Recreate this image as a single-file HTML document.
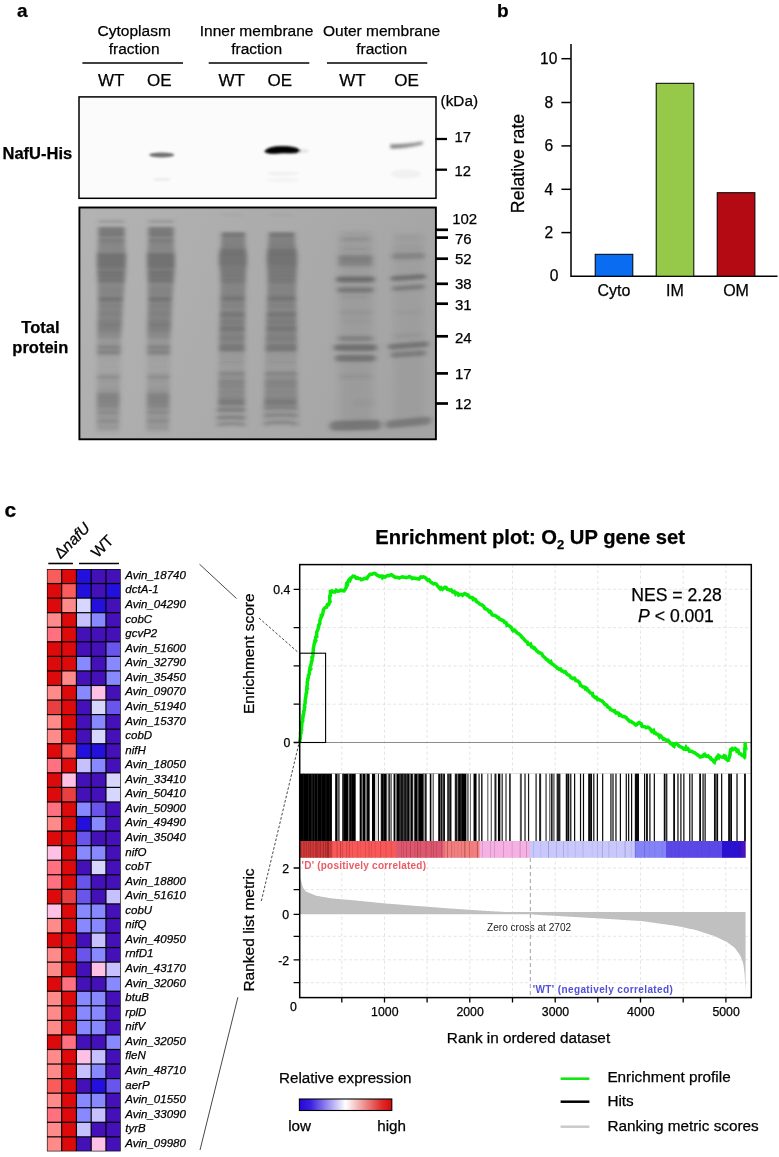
<!DOCTYPE html>
<html><head><meta charset="utf-8"><title>Figure</title>
<style>
html,body{margin:0;padding:0;background:#fff}
body{width:779px;height:1157px;overflow:hidden}
svg{display:block;font-family:"Liberation Sans",sans-serif}
text{fill:#000;stroke:#000;stroke-width:0.25px}
</style></head><body>
<svg width="779" height="1157" viewBox="0 0 779 1157">
<defs><linearGradient id="gA" gradientUnits="userSpaceOnUse" x1="0" y1="218" x2="0" y2="436"><stop offset="0.0000" stop-color="#505050" stop-opacity="0.000"/><stop offset="0.0046" stop-color="#505050" stop-opacity="0.000"/><stop offset="0.0092" stop-color="#505050" stop-opacity="0.118"/><stop offset="0.0138" stop-color="#505050" stop-opacity="0.204"/><stop offset="0.0183" stop-color="#505050" stop-opacity="0.232"/><stop offset="0.0229" stop-color="#505050" stop-opacity="0.150"/><stop offset="0.0275" stop-color="#505050" stop-opacity="0.000"/><stop offset="0.0321" stop-color="#505050" stop-opacity="0.048"/><stop offset="0.0367" stop-color="#505050" stop-opacity="0.095"/><stop offset="0.0413" stop-color="#505050" stop-opacity="0.245"/><stop offset="0.0459" stop-color="#505050" stop-opacity="0.551"/><stop offset="0.0505" stop-color="#505050" stop-opacity="0.576"/><stop offset="0.0550" stop-color="#505050" stop-opacity="0.546"/><stop offset="0.0596" stop-color="#505050" stop-opacity="0.544"/><stop offset="0.0642" stop-color="#505050" stop-opacity="0.603"/><stop offset="0.0688" stop-color="#505050" stop-opacity="0.600"/><stop offset="0.0734" stop-color="#505050" stop-opacity="0.542"/><stop offset="0.0780" stop-color="#505050" stop-opacity="0.576"/><stop offset="0.0826" stop-color="#505050" stop-opacity="0.561"/><stop offset="0.0872" stop-color="#505050" stop-opacity="0.442"/><stop offset="0.0917" stop-color="#505050" stop-opacity="0.364"/><stop offset="0.0963" stop-color="#505050" stop-opacity="0.448"/><stop offset="0.1009" stop-color="#505050" stop-opacity="0.613"/><stop offset="0.1055" stop-color="#505050" stop-opacity="0.547"/><stop offset="0.1101" stop-color="#505050" stop-opacity="0.454"/><stop offset="0.1147" stop-color="#505050" stop-opacity="0.415"/><stop offset="0.1193" stop-color="#505050" stop-opacity="0.496"/><stop offset="0.1239" stop-color="#505050" stop-opacity="0.442"/><stop offset="0.1284" stop-color="#505050" stop-opacity="0.369"/><stop offset="0.1330" stop-color="#505050" stop-opacity="0.419"/><stop offset="0.1376" stop-color="#505050" stop-opacity="0.481"/><stop offset="0.1422" stop-color="#505050" stop-opacity="0.432"/><stop offset="0.1468" stop-color="#505050" stop-opacity="0.387"/><stop offset="0.1514" stop-color="#505050" stop-opacity="0.434"/><stop offset="0.1560" stop-color="#505050" stop-opacity="0.459"/><stop offset="0.1606" stop-color="#505050" stop-opacity="0.457"/><stop offset="0.1651" stop-color="#505050" stop-opacity="0.625"/><stop offset="0.1697" stop-color="#505050" stop-opacity="0.658"/><stop offset="0.1743" stop-color="#505050" stop-opacity="0.651"/><stop offset="0.1789" stop-color="#505050" stop-opacity="0.629"/><stop offset="0.1835" stop-color="#505050" stop-opacity="0.645"/><stop offset="0.1881" stop-color="#505050" stop-opacity="0.657"/><stop offset="0.1927" stop-color="#505050" stop-opacity="0.633"/><stop offset="0.1972" stop-color="#505050" stop-opacity="0.634"/><stop offset="0.2018" stop-color="#505050" stop-opacity="0.665"/><stop offset="0.2064" stop-color="#505050" stop-opacity="0.639"/><stop offset="0.2110" stop-color="#505050" stop-opacity="0.617"/><stop offset="0.2156" stop-color="#505050" stop-opacity="0.671"/><stop offset="0.2202" stop-color="#505050" stop-opacity="0.656"/><stop offset="0.2248" stop-color="#505050" stop-opacity="0.597"/><stop offset="0.2294" stop-color="#505050" stop-opacity="0.606"/><stop offset="0.2339" stop-color="#505050" stop-opacity="0.520"/><stop offset="0.2385" stop-color="#505050" stop-opacity="0.497"/><stop offset="0.2431" stop-color="#505050" stop-opacity="0.601"/><stop offset="0.2477" stop-color="#505050" stop-opacity="0.685"/><stop offset="0.2523" stop-color="#505050" stop-opacity="0.601"/><stop offset="0.2569" stop-color="#505050" stop-opacity="0.548"/><stop offset="0.2615" stop-color="#505050" stop-opacity="0.651"/><stop offset="0.2661" stop-color="#505050" stop-opacity="0.660"/><stop offset="0.2706" stop-color="#505050" stop-opacity="0.553"/><stop offset="0.2752" stop-color="#505050" stop-opacity="0.569"/><stop offset="0.2798" stop-color="#505050" stop-opacity="0.658"/><stop offset="0.2844" stop-color="#505050" stop-opacity="0.624"/><stop offset="0.2890" stop-color="#505050" stop-opacity="0.548"/><stop offset="0.2936" stop-color="#505050" stop-opacity="0.579"/><stop offset="0.2982" stop-color="#505050" stop-opacity="0.509"/><stop offset="0.3028" stop-color="#505050" stop-opacity="0.442"/><stop offset="0.3073" stop-color="#505050" stop-opacity="0.398"/><stop offset="0.3119" stop-color="#505050" stop-opacity="0.419"/><stop offset="0.3165" stop-color="#505050" stop-opacity="0.451"/><stop offset="0.3211" stop-color="#505050" stop-opacity="0.460"/><stop offset="0.3257" stop-color="#505050" stop-opacity="0.437"/><stop offset="0.3303" stop-color="#505050" stop-opacity="0.447"/><stop offset="0.3349" stop-color="#505050" stop-opacity="0.466"/><stop offset="0.3394" stop-color="#505050" stop-opacity="0.457"/><stop offset="0.3440" stop-color="#505050" stop-opacity="0.438"/><stop offset="0.3486" stop-color="#505050" stop-opacity="0.450"/><stop offset="0.3532" stop-color="#505050" stop-opacity="0.451"/><stop offset="0.3578" stop-color="#505050" stop-opacity="0.426"/><stop offset="0.3624" stop-color="#505050" stop-opacity="0.488"/><stop offset="0.3670" stop-color="#505050" stop-opacity="0.611"/><stop offset="0.3716" stop-color="#505050" stop-opacity="0.626"/><stop offset="0.3761" stop-color="#505050" stop-opacity="0.560"/><stop offset="0.3807" stop-color="#505050" stop-opacity="0.577"/><stop offset="0.3853" stop-color="#505050" stop-opacity="0.484"/><stop offset="0.3899" stop-color="#505050" stop-opacity="0.416"/><stop offset="0.3945" stop-color="#505050" stop-opacity="0.422"/><stop offset="0.3991" stop-color="#505050" stop-opacity="0.523"/><stop offset="0.4037" stop-color="#505050" stop-opacity="0.490"/><stop offset="0.4083" stop-color="#505050" stop-opacity="0.391"/><stop offset="0.4128" stop-color="#505050" stop-opacity="0.484"/><stop offset="0.4174" stop-color="#505050" stop-opacity="0.506"/><stop offset="0.4220" stop-color="#505050" stop-opacity="0.367"/><stop offset="0.4266" stop-color="#505050" stop-opacity="0.422"/><stop offset="0.4312" stop-color="#505050" stop-opacity="0.561"/><stop offset="0.4358" stop-color="#505050" stop-opacity="0.464"/><stop offset="0.4404" stop-color="#505050" stop-opacity="0.451"/><stop offset="0.4450" stop-color="#505050" stop-opacity="0.529"/><stop offset="0.4495" stop-color="#505050" stop-opacity="0.488"/><stop offset="0.4541" stop-color="#505050" stop-opacity="0.397"/><stop offset="0.4587" stop-color="#505050" stop-opacity="0.437"/><stop offset="0.4633" stop-color="#505050" stop-opacity="0.479"/><stop offset="0.4679" stop-color="#505050" stop-opacity="0.489"/><stop offset="0.4725" stop-color="#505050" stop-opacity="0.491"/><stop offset="0.4771" stop-color="#505050" stop-opacity="0.524"/><stop offset="0.4817" stop-color="#505050" stop-opacity="0.525"/><stop offset="0.4862" stop-color="#505050" stop-opacity="0.508"/><stop offset="0.4908" stop-color="#505050" stop-opacity="0.517"/><stop offset="0.4954" stop-color="#505050" stop-opacity="0.528"/><stop offset="0.5000" stop-color="#505050" stop-opacity="0.514"/><stop offset="0.5046" stop-color="#505050" stop-opacity="0.479"/><stop offset="0.5092" stop-color="#505050" stop-opacity="0.475"/><stop offset="0.5138" stop-color="#505050" stop-opacity="0.501"/><stop offset="0.5183" stop-color="#505050" stop-opacity="0.486"/><stop offset="0.5229" stop-color="#505050" stop-opacity="0.428"/><stop offset="0.5275" stop-color="#505050" stop-opacity="0.406"/><stop offset="0.5321" stop-color="#505050" stop-opacity="0.391"/><stop offset="0.5367" stop-color="#505050" stop-opacity="0.384"/><stop offset="0.5413" stop-color="#505050" stop-opacity="0.401"/><stop offset="0.5459" stop-color="#505050" stop-opacity="0.345"/><stop offset="0.5505" stop-color="#505050" stop-opacity="0.349"/><stop offset="0.5550" stop-color="#505050" stop-opacity="0.288"/><stop offset="0.5596" stop-color="#505050" stop-opacity="0.192"/><stop offset="0.5642" stop-color="#505050" stop-opacity="0.257"/><stop offset="0.5688" stop-color="#505050" stop-opacity="0.307"/><stop offset="0.5734" stop-color="#505050" stop-opacity="0.220"/><stop offset="0.5780" stop-color="#505050" stop-opacity="0.220"/><stop offset="0.5826" stop-color="#505050" stop-opacity="0.341"/><stop offset="0.5872" stop-color="#505050" stop-opacity="0.421"/><stop offset="0.5917" stop-color="#505050" stop-opacity="0.431"/><stop offset="0.5963" stop-color="#505050" stop-opacity="0.445"/><stop offset="0.6009" stop-color="#505050" stop-opacity="0.400"/><stop offset="0.6055" stop-color="#505050" stop-opacity="0.325"/><stop offset="0.6101" stop-color="#505050" stop-opacity="0.409"/><stop offset="0.6147" stop-color="#505050" stop-opacity="0.498"/><stop offset="0.6193" stop-color="#505050" stop-opacity="0.447"/><stop offset="0.6239" stop-color="#505050" stop-opacity="0.348"/><stop offset="0.6284" stop-color="#505050" stop-opacity="0.280"/><stop offset="0.6330" stop-color="#505050" stop-opacity="0.202"/><stop offset="0.6376" stop-color="#505050" stop-opacity="0.129"/><stop offset="0.6422" stop-color="#505050" stop-opacity="0.150"/><stop offset="0.6468" stop-color="#505050" stop-opacity="0.148"/><stop offset="0.6514" stop-color="#505050" stop-opacity="0.123"/><stop offset="0.6560" stop-color="#505050" stop-opacity="0.134"/><stop offset="0.6606" stop-color="#505050" stop-opacity="0.157"/><stop offset="0.6651" stop-color="#505050" stop-opacity="0.126"/><stop offset="0.6697" stop-color="#505050" stop-opacity="0.103"/><stop offset="0.6743" stop-color="#505050" stop-opacity="0.148"/><stop offset="0.6789" stop-color="#505050" stop-opacity="0.161"/><stop offset="0.6835" stop-color="#505050" stop-opacity="0.095"/><stop offset="0.6881" stop-color="#505050" stop-opacity="0.088"/><stop offset="0.6927" stop-color="#505050" stop-opacity="0.164"/><stop offset="0.6972" stop-color="#505050" stop-opacity="0.161"/><stop offset="0.7018" stop-color="#505050" stop-opacity="0.070"/><stop offset="0.7064" stop-color="#505050" stop-opacity="0.099"/><stop offset="0.7110" stop-color="#505050" stop-opacity="0.220"/><stop offset="0.7156" stop-color="#505050" stop-opacity="0.238"/><stop offset="0.7202" stop-color="#505050" stop-opacity="0.162"/><stop offset="0.7248" stop-color="#505050" stop-opacity="0.250"/><stop offset="0.7294" stop-color="#505050" stop-opacity="0.432"/><stop offset="0.7339" stop-color="#505050" stop-opacity="0.358"/><stop offset="0.7385" stop-color="#505050" stop-opacity="0.200"/><stop offset="0.7431" stop-color="#505050" stop-opacity="0.177"/><stop offset="0.7477" stop-color="#505050" stop-opacity="0.253"/><stop offset="0.7523" stop-color="#505050" stop-opacity="0.228"/><stop offset="0.7569" stop-color="#505050" stop-opacity="0.162"/><stop offset="0.7615" stop-color="#505050" stop-opacity="0.189"/><stop offset="0.7661" stop-color="#505050" stop-opacity="0.226"/><stop offset="0.7706" stop-color="#505050" stop-opacity="0.188"/><stop offset="0.7752" stop-color="#505050" stop-opacity="0.185"/><stop offset="0.7798" stop-color="#505050" stop-opacity="0.233"/><stop offset="0.7844" stop-color="#505050" stop-opacity="0.250"/><stop offset="0.7890" stop-color="#505050" stop-opacity="0.240"/><stop offset="0.7936" stop-color="#505050" stop-opacity="0.268"/><stop offset="0.7982" stop-color="#505050" stop-opacity="0.300"/><stop offset="0.8028" stop-color="#505050" stop-opacity="0.349"/><stop offset="0.8073" stop-color="#505050" stop-opacity="0.418"/><stop offset="0.8119" stop-color="#505050" stop-opacity="0.457"/><stop offset="0.8165" stop-color="#505050" stop-opacity="0.444"/><stop offset="0.8211" stop-color="#505050" stop-opacity="0.426"/><stop offset="0.8257" stop-color="#505050" stop-opacity="0.484"/><stop offset="0.8303" stop-color="#505050" stop-opacity="0.487"/><stop offset="0.8349" stop-color="#505050" stop-opacity="0.432"/><stop offset="0.8394" stop-color="#505050" stop-opacity="0.475"/><stop offset="0.8440" stop-color="#505050" stop-opacity="0.505"/><stop offset="0.8486" stop-color="#505050" stop-opacity="0.405"/><stop offset="0.8532" stop-color="#505050" stop-opacity="0.402"/><stop offset="0.8578" stop-color="#505050" stop-opacity="0.489"/><stop offset="0.8624" stop-color="#505050" stop-opacity="0.423"/><stop offset="0.8670" stop-color="#505050" stop-opacity="0.334"/><stop offset="0.8716" stop-color="#505050" stop-opacity="0.365"/><stop offset="0.8761" stop-color="#505050" stop-opacity="0.357"/><stop offset="0.8807" stop-color="#505050" stop-opacity="0.256"/><stop offset="0.8853" stop-color="#505050" stop-opacity="0.282"/><stop offset="0.8899" stop-color="#505050" stop-opacity="0.426"/><stop offset="0.8945" stop-color="#505050" stop-opacity="0.409"/><stop offset="0.8991" stop-color="#505050" stop-opacity="0.266"/><stop offset="0.9037" stop-color="#505050" stop-opacity="0.200"/><stop offset="0.9083" stop-color="#505050" stop-opacity="0.272"/><stop offset="0.9128" stop-color="#505050" stop-opacity="0.281"/><stop offset="0.9174" stop-color="#505050" stop-opacity="0.235"/><stop offset="0.9220" stop-color="#505050" stop-opacity="0.239"/><stop offset="0.9266" stop-color="#505050" stop-opacity="0.329"/><stop offset="0.9312" stop-color="#505050" stop-opacity="0.382"/><stop offset="0.9358" stop-color="#505050" stop-opacity="0.327"/><stop offset="0.9404" stop-color="#505050" stop-opacity="0.264"/><stop offset="0.9450" stop-color="#505050" stop-opacity="0.224"/><stop offset="0.9495" stop-color="#505050" stop-opacity="0.237"/><stop offset="0.9541" stop-color="#505050" stop-opacity="0.228"/><stop offset="0.9587" stop-color="#505050" stop-opacity="0.244"/><stop offset="0.9633" stop-color="#505050" stop-opacity="0.267"/><stop offset="0.9679" stop-color="#505050" stop-opacity="0.212"/><stop offset="0.9725" stop-color="#505050" stop-opacity="0.135"/><stop offset="0.9771" stop-color="#505050" stop-opacity="0.124"/><stop offset="0.9817" stop-color="#505050" stop-opacity="0.089"/><stop offset="0.9862" stop-color="#505050" stop-opacity="0.060"/><stop offset="0.9908" stop-color="#505050" stop-opacity="0.030"/><stop offset="0.9954" stop-color="#505050" stop-opacity="0.000"/><stop offset="1.0000" stop-color="#505050" stop-opacity="0.000"/></linearGradient><linearGradient id="gB" gradientUnits="userSpaceOnUse" x1="0" y1="211" x2="0" y2="430"><stop offset="0.0000" stop-color="#505050" stop-opacity="0.000"/><stop offset="0.0046" stop-color="#505050" stop-opacity="0.000"/><stop offset="0.0091" stop-color="#505050" stop-opacity="0.000"/><stop offset="0.0137" stop-color="#505050" stop-opacity="0.023"/><stop offset="0.0183" stop-color="#505050" stop-opacity="0.046"/><stop offset="0.0228" stop-color="#505050" stop-opacity="0.023"/><stop offset="0.0274" stop-color="#505050" stop-opacity="0.000"/><stop offset="0.0320" stop-color="#505050" stop-opacity="0.000"/><stop offset="0.0365" stop-color="#505050" stop-opacity="0.000"/><stop offset="0.0411" stop-color="#505050" stop-opacity="0.000"/><stop offset="0.0457" stop-color="#505050" stop-opacity="0.000"/><stop offset="0.0502" stop-color="#505050" stop-opacity="0.000"/><stop offset="0.0548" stop-color="#505050" stop-opacity="0.000"/><stop offset="0.0594" stop-color="#505050" stop-opacity="0.000"/><stop offset="0.0639" stop-color="#505050" stop-opacity="0.000"/><stop offset="0.0685" stop-color="#505050" stop-opacity="0.000"/><stop offset="0.0731" stop-color="#505050" stop-opacity="0.000"/><stop offset="0.0776" stop-color="#505050" stop-opacity="0.000"/><stop offset="0.0822" stop-color="#505050" stop-opacity="0.000"/><stop offset="0.0868" stop-color="#505050" stop-opacity="0.000"/><stop offset="0.0913" stop-color="#505050" stop-opacity="0.000"/><stop offset="0.0959" stop-color="#505050" stop-opacity="0.213"/><stop offset="0.1005" stop-color="#505050" stop-opacity="0.571"/><stop offset="0.1050" stop-color="#505050" stop-opacity="0.518"/><stop offset="0.1096" stop-color="#505050" stop-opacity="0.553"/><stop offset="0.1142" stop-color="#505050" stop-opacity="0.613"/><stop offset="0.1187" stop-color="#505050" stop-opacity="0.522"/><stop offset="0.1233" stop-color="#505050" stop-opacity="0.397"/><stop offset="0.1279" stop-color="#505050" stop-opacity="0.450"/><stop offset="0.1324" stop-color="#505050" stop-opacity="0.531"/><stop offset="0.1370" stop-color="#505050" stop-opacity="0.479"/><stop offset="0.1416" stop-color="#505050" stop-opacity="0.401"/><stop offset="0.1461" stop-color="#505050" stop-opacity="0.457"/><stop offset="0.1507" stop-color="#505050" stop-opacity="0.538"/><stop offset="0.1553" stop-color="#505050" stop-opacity="0.489"/><stop offset="0.1598" stop-color="#505050" stop-opacity="0.420"/><stop offset="0.1644" stop-color="#505050" stop-opacity="0.471"/><stop offset="0.1689" stop-color="#505050" stop-opacity="0.533"/><stop offset="0.1735" stop-color="#505050" stop-opacity="0.554"/><stop offset="0.1781" stop-color="#505050" stop-opacity="0.580"/><stop offset="0.1826" stop-color="#505050" stop-opacity="0.625"/><stop offset="0.1872" stop-color="#505050" stop-opacity="0.649"/><stop offset="0.1918" stop-color="#505050" stop-opacity="0.609"/><stop offset="0.1963" stop-color="#505050" stop-opacity="0.603"/><stop offset="0.2009" stop-color="#505050" stop-opacity="0.634"/><stop offset="0.2055" stop-color="#505050" stop-opacity="0.628"/><stop offset="0.2100" stop-color="#505050" stop-opacity="0.606"/><stop offset="0.2146" stop-color="#505050" stop-opacity="0.621"/><stop offset="0.2192" stop-color="#505050" stop-opacity="0.634"/><stop offset="0.2237" stop-color="#505050" stop-opacity="0.610"/><stop offset="0.2283" stop-color="#505050" stop-opacity="0.612"/><stop offset="0.2329" stop-color="#505050" stop-opacity="0.641"/><stop offset="0.2374" stop-color="#505050" stop-opacity="0.616"/><stop offset="0.2420" stop-color="#505050" stop-opacity="0.595"/><stop offset="0.2466" stop-color="#505050" stop-opacity="0.613"/><stop offset="0.2511" stop-color="#505050" stop-opacity="0.564"/><stop offset="0.2557" stop-color="#505050" stop-opacity="0.507"/><stop offset="0.2603" stop-color="#505050" stop-opacity="0.569"/><stop offset="0.2648" stop-color="#505050" stop-opacity="0.593"/><stop offset="0.2694" stop-color="#505050" stop-opacity="0.502"/><stop offset="0.2740" stop-color="#505050" stop-opacity="0.534"/><stop offset="0.2785" stop-color="#505050" stop-opacity="0.617"/><stop offset="0.2831" stop-color="#505050" stop-opacity="0.538"/><stop offset="0.2877" stop-color="#505050" stop-opacity="0.489"/><stop offset="0.2922" stop-color="#505050" stop-opacity="0.590"/><stop offset="0.2968" stop-color="#505050" stop-opacity="0.601"/><stop offset="0.3014" stop-color="#505050" stop-opacity="0.500"/><stop offset="0.3059" stop-color="#505050" stop-opacity="0.517"/><stop offset="0.3105" stop-color="#505050" stop-opacity="0.605"/><stop offset="0.3151" stop-color="#505050" stop-opacity="0.575"/><stop offset="0.3196" stop-color="#505050" stop-opacity="0.504"/><stop offset="0.3242" stop-color="#505050" stop-opacity="0.535"/><stop offset="0.3288" stop-color="#505050" stop-opacity="0.533"/><stop offset="0.3333" stop-color="#505050" stop-opacity="0.449"/><stop offset="0.3379" stop-color="#505050" stop-opacity="0.407"/><stop offset="0.3425" stop-color="#505050" stop-opacity="0.427"/><stop offset="0.3470" stop-color="#505050" stop-opacity="0.458"/><stop offset="0.3516" stop-color="#505050" stop-opacity="0.444"/><stop offset="0.3562" stop-color="#505050" stop-opacity="0.421"/><stop offset="0.3607" stop-color="#505050" stop-opacity="0.431"/><stop offset="0.3653" stop-color="#505050" stop-opacity="0.450"/><stop offset="0.3699" stop-color="#505050" stop-opacity="0.441"/><stop offset="0.3744" stop-color="#505050" stop-opacity="0.422"/><stop offset="0.3790" stop-color="#505050" stop-opacity="0.434"/><stop offset="0.3836" stop-color="#505050" stop-opacity="0.457"/><stop offset="0.3881" stop-color="#505050" stop-opacity="0.503"/><stop offset="0.3927" stop-color="#505050" stop-opacity="0.548"/><stop offset="0.3973" stop-color="#505050" stop-opacity="0.589"/><stop offset="0.4018" stop-color="#505050" stop-opacity="0.604"/><stop offset="0.4064" stop-color="#505050" stop-opacity="0.540"/><stop offset="0.4110" stop-color="#505050" stop-opacity="0.503"/><stop offset="0.4155" stop-color="#505050" stop-opacity="0.466"/><stop offset="0.4201" stop-color="#505050" stop-opacity="0.417"/><stop offset="0.4247" stop-color="#505050" stop-opacity="0.392"/><stop offset="0.4292" stop-color="#505050" stop-opacity="0.509"/><stop offset="0.4338" stop-color="#505050" stop-opacity="0.467"/><stop offset="0.4384" stop-color="#505050" stop-opacity="0.361"/><stop offset="0.4429" stop-color="#505050" stop-opacity="0.439"/><stop offset="0.4475" stop-color="#505050" stop-opacity="0.465"/><stop offset="0.4521" stop-color="#505050" stop-opacity="0.354"/><stop offset="0.4566" stop-color="#505050" stop-opacity="0.405"/><stop offset="0.4612" stop-color="#505050" stop-opacity="0.554"/><stop offset="0.4658" stop-color="#505050" stop-opacity="0.546"/><stop offset="0.4703" stop-color="#505050" stop-opacity="0.538"/><stop offset="0.4749" stop-color="#505050" stop-opacity="0.618"/><stop offset="0.4795" stop-color="#505050" stop-opacity="0.583"/><stop offset="0.4840" stop-color="#505050" stop-opacity="0.483"/><stop offset="0.4886" stop-color="#505050" stop-opacity="0.422"/><stop offset="0.4932" stop-color="#505050" stop-opacity="0.485"/><stop offset="0.4977" stop-color="#505050" stop-opacity="0.492"/><stop offset="0.5023" stop-color="#505050" stop-opacity="0.490"/><stop offset="0.5068" stop-color="#505050" stop-opacity="0.518"/><stop offset="0.5114" stop-color="#505050" stop-opacity="0.515"/><stop offset="0.5160" stop-color="#505050" stop-opacity="0.463"/><stop offset="0.5205" stop-color="#505050" stop-opacity="0.406"/><stop offset="0.5251" stop-color="#505050" stop-opacity="0.507"/><stop offset="0.5297" stop-color="#505050" stop-opacity="0.583"/><stop offset="0.5342" stop-color="#505050" stop-opacity="0.558"/><stop offset="0.5388" stop-color="#505050" stop-opacity="0.563"/><stop offset="0.5434" stop-color="#505050" stop-opacity="0.597"/><stop offset="0.5479" stop-color="#505050" stop-opacity="0.545"/><stop offset="0.5525" stop-color="#505050" stop-opacity="0.406"/><stop offset="0.5571" stop-color="#505050" stop-opacity="0.392"/><stop offset="0.5616" stop-color="#505050" stop-opacity="0.470"/><stop offset="0.5662" stop-color="#505050" stop-opacity="0.482"/><stop offset="0.5708" stop-color="#505050" stop-opacity="0.433"/><stop offset="0.5753" stop-color="#505050" stop-opacity="0.459"/><stop offset="0.5799" stop-color="#505050" stop-opacity="0.543"/><stop offset="0.5845" stop-color="#505050" stop-opacity="0.496"/><stop offset="0.5890" stop-color="#505050" stop-opacity="0.415"/><stop offset="0.5936" stop-color="#505050" stop-opacity="0.434"/><stop offset="0.5982" stop-color="#505050" stop-opacity="0.480"/><stop offset="0.6027" stop-color="#505050" stop-opacity="0.381"/><stop offset="0.6073" stop-color="#505050" stop-opacity="0.385"/><stop offset="0.6119" stop-color="#505050" stop-opacity="0.546"/><stop offset="0.6164" stop-color="#505050" stop-opacity="0.567"/><stop offset="0.6210" stop-color="#505050" stop-opacity="0.497"/><stop offset="0.6256" stop-color="#505050" stop-opacity="0.569"/><stop offset="0.6301" stop-color="#505050" stop-opacity="0.586"/><stop offset="0.6347" stop-color="#505050" stop-opacity="0.517"/><stop offset="0.6393" stop-color="#505050" stop-opacity="0.417"/><stop offset="0.6438" stop-color="#505050" stop-opacity="0.323"/><stop offset="0.6484" stop-color="#505050" stop-opacity="0.212"/><stop offset="0.6530" stop-color="#505050" stop-opacity="0.203"/><stop offset="0.6575" stop-color="#505050" stop-opacity="0.224"/><stop offset="0.6621" stop-color="#505050" stop-opacity="0.197"/><stop offset="0.6667" stop-color="#505050" stop-opacity="0.175"/><stop offset="0.6712" stop-color="#505050" stop-opacity="0.188"/><stop offset="0.6758" stop-color="#505050" stop-opacity="0.179"/><stop offset="0.6804" stop-color="#505050" stop-opacity="0.146"/><stop offset="0.6849" stop-color="#505050" stop-opacity="0.204"/><stop offset="0.6895" stop-color="#505050" stop-opacity="0.274"/><stop offset="0.6941" stop-color="#505050" stop-opacity="0.201"/><stop offset="0.6986" stop-color="#505050" stop-opacity="0.134"/><stop offset="0.7032" stop-color="#505050" stop-opacity="0.179"/><stop offset="0.7078" stop-color="#505050" stop-opacity="0.193"/><stop offset="0.7123" stop-color="#505050" stop-opacity="0.131"/><stop offset="0.7169" stop-color="#505050" stop-opacity="0.126"/><stop offset="0.7215" stop-color="#505050" stop-opacity="0.201"/><stop offset="0.7260" stop-color="#505050" stop-opacity="0.200"/><stop offset="0.7306" stop-color="#505050" stop-opacity="0.196"/><stop offset="0.7352" stop-color="#505050" stop-opacity="0.284"/><stop offset="0.7397" stop-color="#505050" stop-opacity="0.419"/><stop offset="0.7443" stop-color="#505050" stop-opacity="0.413"/><stop offset="0.7489" stop-color="#505050" stop-opacity="0.317"/><stop offset="0.7534" stop-color="#505050" stop-opacity="0.299"/><stop offset="0.7580" stop-color="#505050" stop-opacity="0.348"/><stop offset="0.7626" stop-color="#505050" stop-opacity="0.295"/><stop offset="0.7671" stop-color="#505050" stop-opacity="0.271"/><stop offset="0.7717" stop-color="#505050" stop-opacity="0.347"/><stop offset="0.7763" stop-color="#505050" stop-opacity="0.456"/><stop offset="0.7808" stop-color="#505050" stop-opacity="0.436"/><stop offset="0.7854" stop-color="#505050" stop-opacity="0.375"/><stop offset="0.7900" stop-color="#505050" stop-opacity="0.405"/><stop offset="0.7945" stop-color="#505050" stop-opacity="0.445"/><stop offset="0.7991" stop-color="#505050" stop-opacity="0.411"/><stop offset="0.8037" stop-color="#505050" stop-opacity="0.393"/><stop offset="0.8082" stop-color="#505050" stop-opacity="0.395"/><stop offset="0.8128" stop-color="#505050" stop-opacity="0.338"/><stop offset="0.8174" stop-color="#505050" stop-opacity="0.315"/><stop offset="0.8219" stop-color="#505050" stop-opacity="0.387"/><stop offset="0.8265" stop-color="#505050" stop-opacity="0.440"/><stop offset="0.8311" stop-color="#505050" stop-opacity="0.366"/><stop offset="0.8356" stop-color="#505050" stop-opacity="0.311"/><stop offset="0.8402" stop-color="#505050" stop-opacity="0.361"/><stop offset="0.8447" stop-color="#505050" stop-opacity="0.362"/><stop offset="0.8493" stop-color="#505050" stop-opacity="0.357"/><stop offset="0.8539" stop-color="#505050" stop-opacity="0.426"/><stop offset="0.8584" stop-color="#505050" stop-opacity="0.460"/><stop offset="0.8630" stop-color="#505050" stop-opacity="0.457"/><stop offset="0.8676" stop-color="#505050" stop-opacity="0.537"/><stop offset="0.8721" stop-color="#505050" stop-opacity="0.576"/><stop offset="0.8767" stop-color="#505050" stop-opacity="0.489"/><stop offset="0.8813" stop-color="#505050" stop-opacity="0.496"/><stop offset="0.8858" stop-color="#505050" stop-opacity="0.452"/><stop offset="0.8904" stop-color="#505050" stop-opacity="0.260"/><stop offset="0.8950" stop-color="#505050" stop-opacity="0.169"/><stop offset="0.8995" stop-color="#505050" stop-opacity="0.238"/><stop offset="0.9041" stop-color="#505050" stop-opacity="0.271"/><stop offset="0.9087" stop-color="#505050" stop-opacity="0.161"/><stop offset="0.9132" stop-color="#505050" stop-opacity="0.121"/><stop offset="0.9178" stop-color="#505050" stop-opacity="0.196"/><stop offset="0.9224" stop-color="#505050" stop-opacity="0.201"/><stop offset="0.9269" stop-color="#505050" stop-opacity="0.116"/><stop offset="0.9315" stop-color="#505050" stop-opacity="0.107"/><stop offset="0.9361" stop-color="#505050" stop-opacity="0.165"/><stop offset="0.9406" stop-color="#505050" stop-opacity="0.161"/><stop offset="0.9452" stop-color="#505050" stop-opacity="0.106"/><stop offset="0.9498" stop-color="#505050" stop-opacity="0.099"/><stop offset="0.9543" stop-color="#505050" stop-opacity="0.129"/><stop offset="0.9589" stop-color="#505050" stop-opacity="0.116"/><stop offset="0.9635" stop-color="#505050" stop-opacity="0.086"/><stop offset="0.9680" stop-color="#505050" stop-opacity="0.072"/><stop offset="0.9726" stop-color="#505050" stop-opacity="0.057"/><stop offset="0.9772" stop-color="#505050" stop-opacity="0.043"/><stop offset="0.9817" stop-color="#505050" stop-opacity="0.029"/><stop offset="0.9863" stop-color="#505050" stop-opacity="0.014"/><stop offset="0.9909" stop-color="#505050" stop-opacity="0.000"/><stop offset="0.9954" stop-color="#505050" stop-opacity="0.000"/><stop offset="1.0000" stop-color="#505050" stop-opacity="0.000"/></linearGradient>
<filter id="gb" x="-5%" y="-5%" width="110%" height="110%"><feGaussianBlur stdDeviation="2.2 0.8"/></filter>
<filter id="gb2" x="-20%" y="-100%" width="140%" height="300%"><feGaussianBlur stdDeviation="2.4 1.7"/></filter>
<filter id="gb3" x="-20%" y="-20%" width="140%" height="140%"><feGaussianBlur stdDeviation="4"/></filter>
<linearGradient id="gelbg" gradientUnits="userSpaceOnUse" x1="79" y1="207" x2="435" y2="360"><stop offset="0" stop-color="#b3b3b3"/><stop offset="0.45" stop-color="#acacac"/><stop offset="1" stop-color="#a4a4a4"/></linearGradient>
<clipPath id="gelclip"><rect x="79.4" y="207.5" width="356.5" height="231.8"/></clipPath>

<filter id="b1" x="-10%" y="-20%" width="120%" height="140%"><feGaussianBlur stdDeviation="1.1"/></filter>
<filter id="b2" x="-10%" y="-10%" width="120%" height="120%"><feGaussianBlur stdDeviation="2.5"/></filter>
<filter id="b3" x="-10%" y="-10%" width="120%" height="120%"><feGaussianBlur stdDeviation="1 0.8"/></filter>
<linearGradient id="sm1" x1="0" y1="0" x2="0" y2="1"><stop offset="0" stop-color="#808080" stop-opacity=".9"/><stop offset=".35" stop-color="#808080" stop-opacity=".8"/><stop offset=".7" stop-color="#8a8a8a" stop-opacity=".5"/><stop offset="1" stop-color="#909090" stop-opacity=".35"/></linearGradient>
<linearGradient id="sm3" x1="0" y1="0" x2="0" y2="1"><stop offset="0" stop-color="#808080" stop-opacity=".9"/><stop offset=".5" stop-color="#808080" stop-opacity=".75"/><stop offset="1" stop-color="#888" stop-opacity=".6"/></linearGradient>

<linearGradient id="cbar" x1="0" y1="0" x2="1" y2="0"><stop offset="0" stop-color="#2408d8"/><stop offset="0.12" stop-color="#3a20e0"/><stop offset="0.5" stop-color="#ffffff"/><stop offset="0.88" stop-color="#e03030"/><stop offset="1" stop-color="#d80808"/></linearGradient>
</defs>
<rect width="779" height="1157" fill="#fff"/>
<g id="panel-a">
<text x="17" y="17" font-size="19" font-weight="bold">a</text>
<text x="134.2" y="35.8" font-size="15.5" text-anchor="middle">Cytoplasm</text>
<text x="134.2" y="54.4" font-size="15.5" text-anchor="middle">fraction</text>
<text x="256.6" y="35.8" font-size="15.5" text-anchor="middle">Inner membrane</text>
<text x="256.6" y="54.4" font-size="15.5" text-anchor="middle">fraction</text>
<text x="381.6" y="35.8" font-size="15.5" text-anchor="middle">Outer membrane</text>
<text x="381.6" y="54.4" font-size="15.5" text-anchor="middle">fraction</text>
<line x1="82.4" y1="63" x2="183" y2="63" stroke="#000" stroke-width="1.4"/>
<line x1="208.7" y1="63" x2="309.3" y2="63" stroke="#000" stroke-width="1.4"/>
<line x1="327" y1="63" x2="427.3" y2="63" stroke="#000" stroke-width="1.4"/>
<text x="111.3" y="86" font-size="17" text-anchor="middle">WT</text>
<text x="159.2" y="86" font-size="17" text-anchor="middle">OE</text>
<text x="231.6" y="86" font-size="17" text-anchor="middle">WT</text>
<text x="279.8" y="86" font-size="17" text-anchor="middle">OE</text>
<text x="352.5" y="86" font-size="17" text-anchor="middle">WT</text>
<text x="406.5" y="86" font-size="17" text-anchor="middle">OE</text>
<rect x="79" y="96.9" width="357" height="101.4" fill="#fbfbfb" stroke="#000" stroke-width="1.5"/>
<g filter="url(#b1)">
<ellipse cx="161.7" cy="155" rx="12.5" ry="2.4" fill="#6e6e6e"/>
<ellipse cx="162" cy="179.5" rx="9" ry="1.6" fill="#ececec"/>
<ellipse cx="302" cy="151" rx="7" ry="2.2" fill="#e6e6e6"/>
<path d="M264.6 151.6 C267 147.6 275 146.4 282 146.4 C290 146.4 297.5 147.4 300.4 150.6 C298 153.8 291 153 284 152.9 C277 152.9 270 155 264.6 151.6Z" fill="#000" stroke="#000" stroke-width="0.8"/>
<ellipse cx="283" cy="173.5" rx="16" ry="2" fill="#f1f1f1"/>
<ellipse cx="283" cy="180" rx="16" ry="2" fill="#f3f3f3"/>
<path d="M390.5 144.8 C400 144.8 412 143.8 422.4 142 L422.6 144 C412 146.8 400 148.4 390.8 148.2Z" fill="#808080" stroke="#808080" stroke-width="0.6" filter="url(#b1)"/>
<ellipse cx="406" cy="174" rx="15" ry="4.5" fill="#f1f1f1"/>
</g>
<text x="440.6" y="106.2" font-size="15.3" >(kDa)</text>
<line x1="435.5" y1="139" x2="447" y2="139" stroke="#000" stroke-width="2.3"/>
<text x="454.6" y="141.7" font-size="14.8" >17</text>
<line x1="435.5" y1="169.7" x2="447" y2="169.7" stroke="#000" stroke-width="2.3"/>
<text x="454.6" y="175.6" font-size="14.8" >12</text>
<text x="2.5" y="159" font-size="16.5" font-weight="bold">NafU-His</text>
<rect x="79.4" y="207.5" width="356.5" height="231.8" fill="url(#gelbg)"/>
<g clip-path="url(#gelclip)">
<g filter="url(#gb3)"><rect x="339" y="234" width="34" height="196" fill="#888" opacity=".34"/><rect x="393" y="234" width="31" height="194" fill="#888" opacity=".28"/></g>
<g filter="url(#gb)">
<path d="M98.5 219 L98 244 L96.8 256 L96.8 266 L97.6 282 L98 300 L97 340 L96.5 435 L119 435 L121 340 L123.3 300 L124.8 282 L126 266 L126.3 256 L125 244 L124.5 219Z" fill="url(#gA)"/>
<path d="M148.5 219 L148 244 L146.8 256 L147 266 L147.8 282 L148 300 L147 340 L146.5 435 L169 435 L170.5 340 L172.2 300 L173.8 282 L175 266 L175 256 L174 244 L173.5 219Z" fill="url(#gA)"/>
<path d="M223 212 L221.5 231 L221 245 L218.8 255 L218.8 262 L220.3 274 L220.5 290 L219 340 L217.5 430 L245 430 L245 340 L245.5 290 L246 274 L247 262 L247 255 L245.5 245 L245 231 L243 212Z" fill="url(#gB)"/>
<path d="M271 212 L269 231 L268 245 L266.7 255 L266.7 262 L267.5 274 L267.5 290 L265.5 340 L263.5 430 L297.5 430 L297 340 L296 290 L296.5 274 L297.3 262 L297.3 255 L295.5 245 L294.5 231 L292 212Z" fill="url(#gB)"/>
</g>
<g filter="url(#gb2)" fill="none" stroke-linecap="round">
<path d="M218.5 410.0 Q231.25 409.4 244 410.0" stroke="#555" stroke-width="3.4" opacity="0.4"/>
<path d="M218.5 417.8 Q231.25 416.59999999999997 244 417.8" stroke="#555" stroke-width="3.4" opacity="0.42"/>
<path d="M218.5 424.6 Q231.25 422.6 244 424.6" stroke="#555" stroke-width="3.4" opacity="0.36"/>
<path d="M265 407.8 Q280.75 407.2 296.5 407.8" stroke="#555" stroke-width="3.2" opacity="0.32"/>
<path d="M265 415.7 Q280.75 414.09999999999997 296.5 415.7" stroke="#555" stroke-width="3.2" opacity="0.36"/>
<path d="M265 423.79999999999995 Q280.75 421.0 296.5 423.79999999999995" stroke="#555" stroke-width="3.2" opacity="0.34"/>
<line x1="343.4" y1="233.4" x2="367.4" y2="233.4" stroke="#505050" stroke-width="2.8" opacity="0.09"/>
<line x1="342.4" y1="239" x2="368.4" y2="239" stroke="#505050" stroke-width="3.3" opacity="0.22" transform="rotate(-1.5 355.4 239)"/>
<line x1="343.4" y1="249" x2="367.4" y2="249" stroke="#505050" stroke-width="2.8" opacity="0.09"/>
<line x1="340.9" y1="258" x2="369.9" y2="258" stroke="#505050" stroke-width="6.1" opacity="0.36"/>
<line x1="340.9" y1="263.2" x2="369.9" y2="263.2" stroke="#505050" stroke-width="6.1" opacity="0.33"/>
<line x1="338.9" y1="279.3" x2="371.9" y2="279.3" stroke="#505050" stroke-width="5.7" opacity="0.60"/>
<line x1="339.9" y1="289.9" x2="370.9" y2="289.9" stroke="#505050" stroke-width="5.5" opacity="0.47"/>
<line x1="342.4" y1="297" x2="368.4" y2="297" stroke="#505050" stroke-width="2.8" opacity="0.09"/>
<line x1="341.4" y1="312.5" x2="369.4" y2="312.5" stroke="#505050" stroke-width="3.3" opacity="0.12"/>
<line x1="342.4" y1="321" x2="368.4" y2="321" stroke="#505050" stroke-width="2.8" opacity="0.07"/>
<line x1="340.4" y1="338.4" x2="370.4" y2="338.4" stroke="#505050" stroke-width="5.0" opacity="0.34"/>
<line x1="336.9" y1="347.6" x2="373.9" y2="347.6" stroke="#505050" stroke-width="6.4" opacity="0.57"/>
<line x1="338.4" y1="358.2" x2="372.4" y2="358.2" stroke="#505050" stroke-width="6.4" opacity="0.53"/>
<line x1="341.4" y1="376.5" x2="369.4" y2="376.5" stroke="#505050" stroke-width="3.3" opacity="0.11"/>
<line x1="334.4" y1="425.3" x2="376.4" y2="425.3" stroke="#505050" stroke-width="9.9" opacity="0.50" transform="rotate(-1.5 355.4 425.3)"/>
<line x1="359.0" y1="403" x2="371.0" y2="403" stroke="#505050" stroke-width="6.6" opacity="0.07"/>
<line x1="396.3" y1="237" x2="420.3" y2="237" stroke="#505050" stroke-width="2.8" opacity="0.07"/>
<line x1="396.3" y1="248" x2="420.3" y2="248" stroke="#505050" stroke-width="2.8" opacity="0.07"/>
<line x1="394.8" y1="256" x2="421.8" y2="256" stroke="#505050" stroke-width="6.6" opacity="0.31" transform="rotate(-1 408.3 256)"/>
<line x1="393.3" y1="277.5" x2="423.3" y2="277.5" stroke="#505050" stroke-width="5.1" opacity="0.58" transform="rotate(-3.9 408.3 277.5)"/>
<line x1="394.3" y1="287.7" x2="422.3" y2="287.7" stroke="#505050" stroke-width="4.8" opacity="0.41" transform="rotate(-3.9 408.3 287.7)"/>
<line x1="396.3" y1="312.5" x2="420.3" y2="312.5" stroke="#505050" stroke-width="2.8" opacity="0.07"/>
<line x1="394.8" y1="335.6" x2="421.8" y2="335.6" stroke="#505050" stroke-width="3.3" opacity="0.12" transform="rotate(-3 408.3 335.6)"/>
<line x1="390.8" y1="345.5" x2="425.8" y2="345.5" stroke="#505050" stroke-width="5.7" opacity="0.53" transform="rotate(-4.5 408.3 345.5)"/>
<line x1="393.3" y1="354" x2="423.3" y2="354" stroke="#505050" stroke-width="5.5" opacity="0.43" transform="rotate(-4 408.3 354)"/>
<line x1="389.3" y1="422.5" x2="427.3" y2="422.5" stroke="#505050" stroke-width="8.2" opacity="0.45" transform="rotate(-6 408.3 422.5)"/>
</g>
</g>
<rect x="79.4" y="207.5" width="356.5" height="231.8" fill="none" stroke="#000" stroke-width="1.9"/>
<line x1="435.9" y1="229.8" x2="448" y2="229.8" stroke="#000" stroke-width="2.7"/>
<text x="452.2" y="223.7" font-size="15" >102</text>
<line x1="435.9" y1="237.6" x2="448" y2="237.6" stroke="#000" stroke-width="2.7"/>
<text x="455.0" y="243.6" font-size="15" >76</text>
<line x1="435.9" y1="258.7" x2="448" y2="258.7" stroke="#000" stroke-width="2.7"/>
<text x="455.0" y="263.5" font-size="15" >52</text>
<line x1="435.9" y1="283.8" x2="448" y2="283.8" stroke="#000" stroke-width="2.7"/>
<text x="455.0" y="289" font-size="15" >38</text>
<line x1="435.9" y1="303.7" x2="448" y2="303.7" stroke="#000" stroke-width="2.7"/>
<text x="455.0" y="309.8" font-size="15" >31</text>
<line x1="435.9" y1="336.3" x2="448" y2="336.3" stroke="#000" stroke-width="2.7"/>
<text x="455.0" y="342.6" font-size="15" >24</text>
<line x1="435.9" y1="373.4" x2="448" y2="373.4" stroke="#000" stroke-width="2.7"/>
<text x="455.0" y="378.6" font-size="15" >17</text>
<line x1="435.9" y1="403.5" x2="448" y2="403.5" stroke="#000" stroke-width="2.7"/>
<text x="455.0" y="409.2" font-size="15" >12</text>
<text x="40.4" y="332.5" font-size="16.5" font-weight="bold" text-anchor="middle">Total</text>
<text x="40.3" y="353.2" font-size="16.5" font-weight="bold" text-anchor="middle">protein</text>
</g>
<g id="panel-b">
<text x="497" y="17" font-size="19" font-weight="bold">b</text>
<path d="M571 44 V276.2 H777.5" fill="none" stroke="#000" stroke-width="1.5"/>
<line x1="561.4" y1="58.7" x2="571" y2="58.7" stroke="#000" stroke-width="1.5"/>
<text x="548.8" y="64.2" font-size="15.6" text-anchor="middle">10</text>
<line x1="561.4" y1="102.5" x2="571" y2="102.5" stroke="#000" stroke-width="1.5"/>
<text x="548.8" y="108.0" font-size="15.6" text-anchor="middle">8</text>
<line x1="561.4" y1="145.9" x2="571" y2="145.9" stroke="#000" stroke-width="1.5"/>
<text x="548.8" y="151.4" font-size="15.6" text-anchor="middle">6</text>
<line x1="561.4" y1="189.3" x2="571" y2="189.3" stroke="#000" stroke-width="1.5"/>
<text x="548.8" y="194.8" font-size="15.6" text-anchor="middle">4</text>
<line x1="561.4" y1="232.6" x2="571" y2="232.6" stroke="#000" stroke-width="1.5"/>
<text x="548.8" y="238.1" font-size="15.6" text-anchor="middle">2</text>
<text x="554.2" y="281.1" font-size="15.6" text-anchor="middle">0</text>
<rect x="595.2" y="254.3" width="37.6" height="21.9" fill="#0a6cf0" stroke="#000" stroke-width="1"/>
<text x="614.0" y="296" font-size="16" text-anchor="middle">Cyto</text>
<rect x="656.2" y="83.3" width="37.6" height="192.9" fill="#96c84a" stroke="#000" stroke-width="1"/>
<text x="675.0" y="296" font-size="16" text-anchor="middle">IM</text>
<rect x="717.2" y="192.7" width="37.7" height="83.5" fill="#b40a14" stroke="#000" stroke-width="1"/>
<text x="736.05" y="296" font-size="16" text-anchor="middle">OM</text>
<text x="0" y="0" font-size="17.7" text-anchor="middle" transform="translate(524.2 163.5) rotate(-90)">Relative rate</text>
</g>
<g id="panel-c">
<rect x="46.9" y="569.0" width="73.8" height="582.4" fill="#000"/>
<g font-size="11.5" font-style="italic">
<rect x="47.50" y="569.60" width="13.56" height="13.36" fill="#fa5c5c"/>
<rect x="62.26" y="569.60" width="13.56" height="13.36" fill="#dc0a0a"/>
<rect x="77.02" y="569.60" width="13.56" height="13.36" fill="#2410dc"/>
<rect x="91.78" y="569.60" width="13.56" height="13.36" fill="#4410b8"/>
<rect x="106.54" y="569.60" width="13.56" height="13.36" fill="#4410b8"/>
<text x="125.3" y="578.9">Avin_18740</text>
<rect x="47.50" y="584.16" width="13.56" height="13.36" fill="#dc0a0a"/>
<rect x="62.26" y="584.16" width="13.56" height="13.36" fill="#fa5c5c"/>
<rect x="77.02" y="584.16" width="13.56" height="13.36" fill="#2410dc"/>
<rect x="91.78" y="584.16" width="13.56" height="13.36" fill="#4410b8"/>
<rect x="106.54" y="584.16" width="13.56" height="13.36" fill="#2410dc"/>
<text x="125.3" y="593.4">dctA-1</text>
<rect x="47.50" y="598.72" width="13.56" height="13.36" fill="#dc0a0a"/>
<rect x="62.26" y="598.72" width="13.56" height="13.36" fill="#ff8a8a"/>
<rect x="77.02" y="598.72" width="13.56" height="13.36" fill="#d6d6ff"/>
<rect x="91.78" y="598.72" width="13.56" height="13.36" fill="#2410dc"/>
<rect x="106.54" y="598.72" width="13.56" height="13.36" fill="#4410b8"/>
<text x="125.3" y="608.0">Avin_04290</text>
<rect x="47.50" y="613.28" width="13.56" height="13.36" fill="#ff8a8a"/>
<rect x="62.26" y="613.28" width="13.56" height="13.36" fill="#dc0a0a"/>
<rect x="77.02" y="613.28" width="13.56" height="13.36" fill="#c6c0ff"/>
<rect x="91.78" y="613.28" width="13.56" height="13.36" fill="#8888ff"/>
<rect x="106.54" y="613.28" width="13.56" height="13.36" fill="#4410b8"/>
<text x="125.3" y="622.6">cobC</text>
<rect x="47.50" y="627.84" width="13.56" height="13.36" fill="#ff7080"/>
<rect x="62.26" y="627.84" width="13.56" height="13.36" fill="#dc0a0a"/>
<rect x="77.02" y="627.84" width="13.56" height="13.36" fill="#4410b8"/>
<rect x="91.78" y="627.84" width="13.56" height="13.36" fill="#4410b8"/>
<rect x="106.54" y="627.84" width="13.56" height="13.36" fill="#4410b8"/>
<text x="125.3" y="637.1">gcvP2</text>
<rect x="47.50" y="642.40" width="13.56" height="13.36" fill="#dc0a0a"/>
<rect x="62.26" y="642.40" width="13.56" height="13.36" fill="#dc0a0a"/>
<rect x="77.02" y="642.40" width="13.56" height="13.36" fill="#4410b8"/>
<rect x="91.78" y="642.40" width="13.56" height="13.36" fill="#4410b8"/>
<rect x="106.54" y="642.40" width="13.56" height="13.36" fill="#6a55ec"/>
<text x="125.3" y="651.7">Avin_51600</text>
<rect x="47.50" y="656.96" width="13.56" height="13.36" fill="#dc0a0a"/>
<rect x="62.26" y="656.96" width="13.56" height="13.36" fill="#dc0a0a"/>
<rect x="77.02" y="656.96" width="13.56" height="13.36" fill="#8888ff"/>
<rect x="91.78" y="656.96" width="13.56" height="13.36" fill="#4410b8"/>
<rect x="106.54" y="656.96" width="13.56" height="13.36" fill="#8888ff"/>
<text x="125.3" y="666.2">Avin_32790</text>
<rect x="47.50" y="671.52" width="13.56" height="13.36" fill="#dc0a0a"/>
<rect x="62.26" y="671.52" width="13.56" height="13.36" fill="#ff8a8a"/>
<rect x="77.02" y="671.52" width="13.56" height="13.36" fill="#4410b8"/>
<rect x="91.78" y="671.52" width="13.56" height="13.36" fill="#4410b8"/>
<rect x="106.54" y="671.52" width="13.56" height="13.36" fill="#8888ff"/>
<text x="125.3" y="680.8">Avin_35450</text>
<rect x="47.50" y="686.08" width="13.56" height="13.36" fill="#ff8a8a"/>
<rect x="62.26" y="686.08" width="13.56" height="13.36" fill="#dc0a0a"/>
<rect x="77.02" y="686.08" width="13.56" height="13.36" fill="#8888ff"/>
<rect x="91.78" y="686.08" width="13.56" height="13.36" fill="#ffc0e6"/>
<rect x="106.54" y="686.08" width="13.56" height="13.36" fill="#4410b8"/>
<text x="125.3" y="695.4">Avin_09070</text>
<rect x="47.50" y="700.64" width="13.56" height="13.36" fill="#e84040"/>
<rect x="62.26" y="700.64" width="13.56" height="13.36" fill="#dc0a0a"/>
<rect x="77.02" y="700.64" width="13.56" height="13.36" fill="#4410b8"/>
<rect x="91.78" y="700.64" width="13.56" height="13.36" fill="#d6d6ff"/>
<rect x="106.54" y="700.64" width="13.56" height="13.36" fill="#6a55ec"/>
<text x="125.3" y="709.9">Avin_51940</text>
<rect x="47.50" y="715.20" width="13.56" height="13.36" fill="#ff8a8a"/>
<rect x="62.26" y="715.20" width="13.56" height="13.36" fill="#dc0a0a"/>
<rect x="77.02" y="715.20" width="13.56" height="13.36" fill="#4410b8"/>
<rect x="91.78" y="715.20" width="13.56" height="13.36" fill="#8888ff"/>
<rect x="106.54" y="715.20" width="13.56" height="13.36" fill="#4410b8"/>
<text x="125.3" y="724.5">Avin_15370</text>
<rect x="47.50" y="729.76" width="13.56" height="13.36" fill="#ff8a8a"/>
<rect x="62.26" y="729.76" width="13.56" height="13.36" fill="#dc0a0a"/>
<rect x="77.02" y="729.76" width="13.56" height="13.36" fill="#4410b8"/>
<rect x="91.78" y="729.76" width="13.56" height="13.36" fill="#d6d6ff"/>
<rect x="106.54" y="729.76" width="13.56" height="13.36" fill="#4410b8"/>
<text x="125.3" y="739.0">cobD</text>
<rect x="47.50" y="744.32" width="13.56" height="13.36" fill="#dc0a0a"/>
<rect x="62.26" y="744.32" width="13.56" height="13.36" fill="#fa5c5c"/>
<rect x="77.02" y="744.32" width="13.56" height="13.36" fill="#2410dc"/>
<rect x="91.78" y="744.32" width="13.56" height="13.36" fill="#2410dc"/>
<rect x="106.54" y="744.32" width="13.56" height="13.36" fill="#4410b8"/>
<text x="125.3" y="753.6">nifH</text>
<rect x="47.50" y="758.88" width="13.56" height="13.36" fill="#ff7080"/>
<rect x="62.26" y="758.88" width="13.56" height="13.36" fill="#dc0a0a"/>
<rect x="77.02" y="758.88" width="13.56" height="13.36" fill="#c6c0ff"/>
<rect x="91.78" y="758.88" width="13.56" height="13.36" fill="#8888ff"/>
<rect x="106.54" y="758.88" width="13.56" height="13.36" fill="#4410b8"/>
<text x="125.3" y="768.2">Avin_18050</text>
<rect x="47.50" y="773.44" width="13.56" height="13.36" fill="#dc0a0a"/>
<rect x="62.26" y="773.44" width="13.56" height="13.36" fill="#ffc0e6"/>
<rect x="77.02" y="773.44" width="13.56" height="13.36" fill="#4410b8"/>
<rect x="91.78" y="773.44" width="13.56" height="13.36" fill="#4410b8"/>
<rect x="106.54" y="773.44" width="13.56" height="13.36" fill="#d6d6ff"/>
<text x="125.3" y="782.7">Avin_33410</text>
<rect x="47.50" y="788.00" width="13.56" height="13.36" fill="#dc0a0a"/>
<rect x="62.26" y="788.00" width="13.56" height="13.36" fill="#e84040"/>
<rect x="77.02" y="788.00" width="13.56" height="13.36" fill="#4410b8"/>
<rect x="91.78" y="788.00" width="13.56" height="13.36" fill="#4410b8"/>
<rect x="106.54" y="788.00" width="13.56" height="13.36" fill="#d6d6ff"/>
<text x="125.3" y="797.3">Avin_50410</text>
<rect x="47.50" y="802.56" width="13.56" height="13.36" fill="#ff7080"/>
<rect x="62.26" y="802.56" width="13.56" height="13.36" fill="#dc0a0a"/>
<rect x="77.02" y="802.56" width="13.56" height="13.36" fill="#8888ff"/>
<rect x="91.78" y="802.56" width="13.56" height="13.36" fill="#6a55ec"/>
<rect x="106.54" y="802.56" width="13.56" height="13.36" fill="#4410b8"/>
<text x="125.3" y="811.8">Avin_50900</text>
<rect x="47.50" y="817.12" width="13.56" height="13.36" fill="#ff8a8a"/>
<rect x="62.26" y="817.12" width="13.56" height="13.36" fill="#dc0a0a"/>
<rect x="77.02" y="817.12" width="13.56" height="13.36" fill="#2410dc"/>
<rect x="91.78" y="817.12" width="13.56" height="13.36" fill="#8888ff"/>
<rect x="106.54" y="817.12" width="13.56" height="13.36" fill="#4410b8"/>
<text x="125.3" y="826.4">Avin_49490</text>
<rect x="47.50" y="831.68" width="13.56" height="13.36" fill="#dc0a0a"/>
<rect x="62.26" y="831.68" width="13.56" height="13.36" fill="#dc0a0a"/>
<rect x="77.02" y="831.68" width="13.56" height="13.36" fill="#6a55ec"/>
<rect x="91.78" y="831.68" width="13.56" height="13.36" fill="#4410b8"/>
<rect x="106.54" y="831.68" width="13.56" height="13.36" fill="#4410b8"/>
<text x="125.3" y="841.0">Avin_35040</text>
<rect x="47.50" y="846.24" width="13.56" height="13.36" fill="#ffc0e6"/>
<rect x="62.26" y="846.24" width="13.56" height="13.36" fill="#dc0a0a"/>
<rect x="77.02" y="846.24" width="13.56" height="13.36" fill="#8888ff"/>
<rect x="91.78" y="846.24" width="13.56" height="13.36" fill="#8888ff"/>
<rect x="106.54" y="846.24" width="13.56" height="13.36" fill="#4410b8"/>
<text x="125.3" y="855.5">nifO</text>
<rect x="47.50" y="860.80" width="13.56" height="13.36" fill="#ff7080"/>
<rect x="62.26" y="860.80" width="13.56" height="13.36" fill="#dc0a0a"/>
<rect x="77.02" y="860.80" width="13.56" height="13.36" fill="#4410b8"/>
<rect x="91.78" y="860.80" width="13.56" height="13.36" fill="#d6d6ff"/>
<rect x="106.54" y="860.80" width="13.56" height="13.36" fill="#4410b8"/>
<text x="125.3" y="870.1">cobT</text>
<rect x="47.50" y="875.36" width="13.56" height="13.36" fill="#ff7080"/>
<rect x="62.26" y="875.36" width="13.56" height="13.36" fill="#dc0a0a"/>
<rect x="77.02" y="875.36" width="13.56" height="13.36" fill="#6a55ec"/>
<rect x="91.78" y="875.36" width="13.56" height="13.36" fill="#4410b8"/>
<rect x="106.54" y="875.36" width="13.56" height="13.36" fill="#4410b8"/>
<text x="125.3" y="884.6">Avin_18800</text>
<rect x="47.50" y="889.92" width="13.56" height="13.36" fill="#dc0a0a"/>
<rect x="62.26" y="889.92" width="13.56" height="13.36" fill="#e84040"/>
<rect x="77.02" y="889.92" width="13.56" height="13.36" fill="#6a55ec"/>
<rect x="91.78" y="889.92" width="13.56" height="13.36" fill="#4410b8"/>
<rect x="106.54" y="889.92" width="13.56" height="13.36" fill="#c6c0ff"/>
<text x="125.3" y="899.2">Avin_51610</text>
<rect x="47.50" y="904.48" width="13.56" height="13.36" fill="#ffc0e6"/>
<rect x="62.26" y="904.48" width="13.56" height="13.36" fill="#dc0a0a"/>
<rect x="77.02" y="904.48" width="13.56" height="13.36" fill="#8888ff"/>
<rect x="91.78" y="904.48" width="13.56" height="13.36" fill="#8888ff"/>
<rect x="106.54" y="904.48" width="13.56" height="13.36" fill="#4410b8"/>
<text x="125.3" y="913.8">cobU</text>
<rect x="47.50" y="919.04" width="13.56" height="13.36" fill="#ff8a8a"/>
<rect x="62.26" y="919.04" width="13.56" height="13.36" fill="#dc0a0a"/>
<rect x="77.02" y="919.04" width="13.56" height="13.36" fill="#8888ff"/>
<rect x="91.78" y="919.04" width="13.56" height="13.36" fill="#8888ff"/>
<rect x="106.54" y="919.04" width="13.56" height="13.36" fill="#4410b8"/>
<text x="125.3" y="928.3">nifQ</text>
<rect x="47.50" y="933.60" width="13.56" height="13.36" fill="#dc0a0a"/>
<rect x="62.26" y="933.60" width="13.56" height="13.36" fill="#dc0a0a"/>
<rect x="77.02" y="933.60" width="13.56" height="13.36" fill="#4410b8"/>
<rect x="91.78" y="933.60" width="13.56" height="13.36" fill="#c6c0ff"/>
<rect x="106.54" y="933.60" width="13.56" height="13.36" fill="#4410b8"/>
<text x="125.3" y="942.9">Avin_40950</text>
<rect x="47.50" y="948.16" width="13.56" height="13.36" fill="#ff8a8a"/>
<rect x="62.26" y="948.16" width="13.56" height="13.36" fill="#dc0a0a"/>
<rect x="77.02" y="948.16" width="13.56" height="13.36" fill="#6a55ec"/>
<rect x="91.78" y="948.16" width="13.56" height="13.36" fill="#8888ff"/>
<rect x="106.54" y="948.16" width="13.56" height="13.36" fill="#4410b8"/>
<text x="125.3" y="957.4">rnfD1</text>
<rect x="47.50" y="962.72" width="13.56" height="13.36" fill="#ff8a8a"/>
<rect x="62.26" y="962.72" width="13.56" height="13.36" fill="#dc0a0a"/>
<rect x="77.02" y="962.72" width="13.56" height="13.36" fill="#4410b8"/>
<rect x="91.78" y="962.72" width="13.56" height="13.36" fill="#ffc0e6"/>
<rect x="106.54" y="962.72" width="13.56" height="13.36" fill="#c6c0ff"/>
<text x="125.3" y="972.0">Avin_43170</text>
<rect x="47.50" y="977.28" width="13.56" height="13.36" fill="#dc0a0a"/>
<rect x="62.26" y="977.28" width="13.56" height="13.36" fill="#ff7080"/>
<rect x="77.02" y="977.28" width="13.56" height="13.36" fill="#4410b8"/>
<rect x="91.78" y="977.28" width="13.56" height="13.36" fill="#4410b8"/>
<rect x="106.54" y="977.28" width="13.56" height="13.36" fill="#8888ff"/>
<text x="125.3" y="986.6">Avin_32060</text>
<rect x="47.50" y="991.84" width="13.56" height="13.36" fill="#ff8a8a"/>
<rect x="62.26" y="991.84" width="13.56" height="13.36" fill="#dc0a0a"/>
<rect x="77.02" y="991.84" width="13.56" height="13.36" fill="#8888ff"/>
<rect x="91.78" y="991.84" width="13.56" height="13.36" fill="#8888ff"/>
<rect x="106.54" y="991.84" width="13.56" height="13.36" fill="#4410b8"/>
<text x="125.3" y="1001.1">btuB</text>
<rect x="47.50" y="1006.40" width="13.56" height="13.36" fill="#ff8a8a"/>
<rect x="62.26" y="1006.40" width="13.56" height="13.36" fill="#dc0a0a"/>
<rect x="77.02" y="1006.40" width="13.56" height="13.36" fill="#8888ff"/>
<rect x="91.78" y="1006.40" width="13.56" height="13.36" fill="#8888ff"/>
<rect x="106.54" y="1006.40" width="13.56" height="13.36" fill="#4410b8"/>
<text x="125.3" y="1015.7">rplD</text>
<rect x="47.50" y="1020.96" width="13.56" height="13.36" fill="#ff8a8a"/>
<rect x="62.26" y="1020.96" width="13.56" height="13.36" fill="#dc0a0a"/>
<rect x="77.02" y="1020.96" width="13.56" height="13.36" fill="#8888ff"/>
<rect x="91.78" y="1020.96" width="13.56" height="13.36" fill="#8888ff"/>
<rect x="106.54" y="1020.96" width="13.56" height="13.36" fill="#4410b8"/>
<text x="125.3" y="1030.2">nifV</text>
<rect x="47.50" y="1035.52" width="13.56" height="13.36" fill="#dc0a0a"/>
<rect x="62.26" y="1035.52" width="13.56" height="13.36" fill="#ff7080"/>
<rect x="77.02" y="1035.52" width="13.56" height="13.36" fill="#4410b8"/>
<rect x="91.78" y="1035.52" width="13.56" height="13.36" fill="#4410b8"/>
<rect x="106.54" y="1035.52" width="13.56" height="13.36" fill="#8888ff"/>
<text x="125.3" y="1044.8">Avin_32050</text>
<rect x="47.50" y="1050.08" width="13.56" height="13.36" fill="#ff8a8a"/>
<rect x="62.26" y="1050.08" width="13.56" height="13.36" fill="#dc0a0a"/>
<rect x="77.02" y="1050.08" width="13.56" height="13.36" fill="#ffc0e6"/>
<rect x="91.78" y="1050.08" width="13.56" height="13.36" fill="#c6c0ff"/>
<rect x="106.54" y="1050.08" width="13.56" height="13.36" fill="#4410b8"/>
<text x="125.3" y="1059.4">fleN</text>
<rect x="47.50" y="1064.64" width="13.56" height="13.36" fill="#ff8a8a"/>
<rect x="62.26" y="1064.64" width="13.56" height="13.36" fill="#dc0a0a"/>
<rect x="77.02" y="1064.64" width="13.56" height="13.36" fill="#c6c0ff"/>
<rect x="91.78" y="1064.64" width="13.56" height="13.36" fill="#8888ff"/>
<rect x="106.54" y="1064.64" width="13.56" height="13.36" fill="#4410b8"/>
<text x="125.3" y="1073.9">Avin_48710</text>
<rect x="47.50" y="1079.20" width="13.56" height="13.36" fill="#fa5c5c"/>
<rect x="62.26" y="1079.20" width="13.56" height="13.36" fill="#dc0a0a"/>
<rect x="77.02" y="1079.20" width="13.56" height="13.36" fill="#4410b8"/>
<rect x="91.78" y="1079.20" width="13.56" height="13.36" fill="#2410dc"/>
<rect x="106.54" y="1079.20" width="13.56" height="13.36" fill="#6a55ec"/>
<text x="125.3" y="1088.5">aerP</text>
<rect x="47.50" y="1093.76" width="13.56" height="13.36" fill="#ff8a8a"/>
<rect x="62.26" y="1093.76" width="13.56" height="13.36" fill="#dc0a0a"/>
<rect x="77.02" y="1093.76" width="13.56" height="13.36" fill="#8888ff"/>
<rect x="91.78" y="1093.76" width="13.56" height="13.36" fill="#8888ff"/>
<rect x="106.54" y="1093.76" width="13.56" height="13.36" fill="#4410b8"/>
<text x="125.3" y="1103.0">Avin_01550</text>
<rect x="47.50" y="1108.32" width="13.56" height="13.36" fill="#ff7080"/>
<rect x="62.26" y="1108.32" width="13.56" height="13.36" fill="#dc0a0a"/>
<rect x="77.02" y="1108.32" width="13.56" height="13.36" fill="#8888ff"/>
<rect x="91.78" y="1108.32" width="13.56" height="13.36" fill="#c6c0ff"/>
<rect x="106.54" y="1108.32" width="13.56" height="13.36" fill="#4410b8"/>
<text x="125.3" y="1117.6">Avin_33090</text>
<rect x="47.50" y="1122.88" width="13.56" height="13.36" fill="#ff8a8a"/>
<rect x="62.26" y="1122.88" width="13.56" height="13.36" fill="#dc0a0a"/>
<rect x="77.02" y="1122.88" width="13.56" height="13.36" fill="#c6c0ff"/>
<rect x="91.78" y="1122.88" width="13.56" height="13.36" fill="#4410b8"/>
<rect x="106.54" y="1122.88" width="13.56" height="13.36" fill="#4410b8"/>
<text x="125.3" y="1132.2">tyrB</text>
<rect x="47.50" y="1137.44" width="13.56" height="13.36" fill="#ff8a8a"/>
<rect x="62.26" y="1137.44" width="13.56" height="13.36" fill="#dc0a0a"/>
<rect x="77.02" y="1137.44" width="13.56" height="13.36" fill="#4410b8"/>
<rect x="91.78" y="1137.44" width="13.56" height="13.36" fill="#ffc0e6"/>
<rect x="106.54" y="1137.44" width="13.56" height="13.36" fill="#4410b8"/>
<text x="125.3" y="1146.7">Avin_09980</text>
</g>
<line x1="48.3" y1="563.5" x2="72.9" y2="563.5" stroke="#000" stroke-width="1.6"/>
<line x1="79" y1="563.5" x2="119" y2="563.5" stroke="#000" stroke-width="1.6"/>
<text font-size="15.5" transform="translate(60.5 559.5) rotate(-45)">Δ<tspan font-style="italic">nafU</tspan></text>
<text font-size="15.5" transform="translate(97.5 558.5) rotate(-45)">WT</text>
<text x="4.6" y="517.4" font-size="21" font-weight="bold">c</text>
<path d="M341.8 564.6 V997.6 M384.5 564.6 V997.6 M427.1 564.6 V997.6 M469.8 564.6 V997.6 M512.5 564.6 V997.6 M555.2 564.6 V997.6 M597.8 564.6 V997.6 M640.5 564.6 V997.6 M683.2 564.6 V997.6 M725.9 564.6 V997.6 M299.7 704.2 H751.3 M299.7 665.9 H751.3 M299.7 627.6 H751.3 M299.7 589.3 H751.3 M299.7 868.0 H751.3 M299.7 889.6 H751.3 M299.7 936.3 H751.3 M299.7 959.8 H751.3 M299.7 982.7 H751.3" stroke="#dedede" stroke-width="0.8" stroke-dasharray="3 2.5" fill="none"/>
<line x1="299.7" y1="742.5" x2="751.3" y2="742.5" stroke="#8c8c8c" stroke-width="1"/>
<line x1="299.7" y1="773.5" x2="751.3" y2="773.5" stroke="#c4c4c4" stroke-width="0.8"/>
<path d="M299.10 874.91 L299.36 875.78 L299.78 877.22 L300.12 877.99 L300.47 878.76 L301.15 880.87 L302.17 884.90 L303.20 888.03 L304.22 889.33 L305.25 890.64 L306.27 891.65 L307.29 892.06 L308.32 892.48 L309.34 892.89 L310.37 893.31 L311.39 893.72 L312.41 894.14 L313.44 894.55 L314.46 894.97 L315.49 895.38 L316.51 895.72 L317.54 895.90 L318.56 896.09 L319.58 896.27 L320.61 896.45 L321.63 896.64 L322.66 896.82 L323.68 897.00 L324.71 897.19 L325.73 897.37 L326.75 897.55 L327.78 897.74 L328.80 897.92 L329.83 898.11 L330.85 898.29 L331.87 898.45 L332.90 898.53 L333.92 898.62 L334.95 898.71 L335.97 898.79 L337.00 898.88 L338.02 898.97 L339.04 899.05 L340.07 899.14 L341.09 899.23 L342.12 899.31 L343.14 899.40 L344.16 899.48 L345.19 899.57 L346.21 899.66 L347.24 899.74 L348.26 899.83 L349.29 899.92 L350.31 900.00 L351.33 900.09 L352.36 900.18 L353.38 900.26 L354.41 900.36 L355.43 900.47 L356.46 900.57 L357.48 900.67 L358.50 900.78 L359.53 900.88 L360.55 900.98 L361.58 901.09 L362.60 901.19 L363.62 901.29 L364.65 901.39 L365.67 901.50 L366.70 901.60 L367.72 901.70 L368.75 901.81 L369.77 901.91 L370.79 902.01 L371.82 902.12 L372.84 902.22 L373.87 902.32 L374.89 902.42 L375.92 902.53 L376.94 902.63 L377.96 902.73 L378.99 902.84 L380.01 902.94 L381.04 903.04 L382.06 903.15 L383.08 903.25 L384.11 903.35 L385.13 903.45 L386.16 903.54 L387.18 903.63 L388.21 903.71 L389.23 903.79 L390.25 903.87 L391.28 903.95 L392.30 904.03 L393.33 904.11 L394.35 904.19 L395.37 904.27 L396.40 904.35 L397.42 904.43 L398.45 904.52 L399.47 904.60 L400.50 904.68 L401.52 904.76 L402.54 904.84 L403.57 904.92 L404.59 905.00 L405.62 905.08 L406.64 905.16 L407.67 905.24 L408.69 905.32 L409.71 905.41 L410.74 905.49 L411.76 905.57 L412.79 905.65 L413.81 905.73 L414.83 905.81 L415.86 905.89 L416.88 905.97 L417.91 906.05 L418.93 906.13 L419.96 906.21 L420.98 906.28 L422.00 906.36 L423.03 906.44 L424.05 906.52 L425.08 906.59 L426.10 906.67 L427.12 906.75 L428.15 906.83 L429.17 906.90 L430.20 906.98 L431.22 907.06 L432.25 907.14 L433.27 907.21 L434.29 907.29 L435.32 907.37 L436.34 907.45 L437.37 907.52 L438.39 907.60 L439.42 907.68 L440.44 907.76 L441.46 907.83 L442.49 907.91 L443.51 907.99 L444.54 908.07 L445.56 908.14 L446.58 908.22 L447.61 908.30 L448.63 908.38 L449.66 908.45 L450.68 908.52 L451.71 908.59 L452.73 908.66 L453.75 908.73 L454.78 908.80 L455.80 908.87 L456.83 908.94 L457.85 909.01 L458.88 909.08 L459.90 909.15 L460.92 909.22 L461.95 909.29 L462.97 909.36 L464.00 909.43 L465.02 909.50 L466.04 909.57 L467.07 909.64 L468.09 909.71 L469.12 909.78 L470.14 909.85 L471.17 909.92 L472.19 909.99 L473.21 910.06 L474.24 910.13 L475.26 910.20 L476.29 910.27 L477.31 910.34 L478.34 910.41 L479.36 910.48 L480.38 910.55 L481.41 910.62 L482.43 910.68 L483.46 910.74 L484.48 910.80 L485.50 910.86 L486.53 910.92 L487.55 910.98 L488.58 911.03 L489.60 911.09 L490.63 911.15 L491.65 911.21 L492.67 911.27 L493.70 911.33 L494.72 911.39 L495.75 911.45 L496.77 911.51 L497.79 911.56 L498.82 911.62 L499.84 911.68 L500.87 911.74 L501.89 911.80 L502.92 911.86 L503.94 911.92 L504.96 911.98 L505.99 912.00 L507.01 912.00 L508.04 912.00 L509.06 912.00 L510.09 912.00 L511.11 912.00 L512.13 912.00 L513.16 912.00 L514.18 912.00 L515.21 912.00 L516.23 912.00 L517.25 912.00 L518.28 912.00 L519.30 912.00 L520.33 912.00 L521.35 912.00 L522.38 912.00 L523.40 912.00 L524.42 912.00 L525.45 912.00 L526.47 912.00 L527.50 912.00 L528.52 912.00 L529.55 912.00 L530.57 912.00 L531.59 912.00 L532.62 912.00 L533.64 912.00 L534.67 912.00 L535.69 912.00 L536.71 912.00 L537.74 912.00 L538.76 912.00 L539.79 912.00 L540.81 912.00 L541.84 912.00 L542.86 912.00 L543.88 912.00 L544.91 912.00 L545.93 912.00 L546.96 912.00 L547.98 912.00 L549.00 912.00 L550.03 912.00 L551.05 912.00 L552.08 912.00 L553.10 912.00 L554.13 912.00 L555.15 912.00 L556.17 912.00 L557.20 912.00 L558.22 912.00 L559.25 912.00 L560.27 912.00 L561.30 912.00 L562.32 912.00 L563.34 912.00 L564.37 912.00 L565.39 912.00 L566.42 912.00 L567.44 912.00 L568.46 912.00 L569.49 912.00 L570.51 912.00 L571.54 912.00 L572.56 912.00 L573.59 912.00 L574.61 912.00 L575.63 912.00 L576.66 912.00 L577.68 912.00 L578.71 912.00 L579.73 912.00 L580.75 912.00 L581.78 912.00 L582.80 912.00 L583.83 912.00 L584.85 912.00 L585.88 912.00 L586.90 912.00 L587.92 912.00 L588.95 912.00 L589.97 912.00 L591.00 912.00 L592.02 912.00 L593.05 912.00 L594.07 912.00 L595.09 912.00 L596.12 912.00 L597.14 912.00 L598.17 912.00 L599.19 912.00 L600.21 912.00 L601.24 912.00 L602.26 912.00 L603.29 912.00 L604.31 912.00 L605.34 912.00 L606.36 912.00 L607.38 912.00 L608.41 912.00 L609.43 912.00 L610.46 912.00 L611.48 912.00 L612.51 912.00 L613.53 912.00 L614.55 912.00 L615.58 912.00 L616.60 912.00 L617.63 912.00 L618.65 912.00 L619.67 912.00 L620.70 912.00 L621.72 912.00 L622.75 912.00 L623.77 912.00 L624.80 912.00 L625.82 912.00 L626.84 912.00 L627.87 912.00 L628.89 912.00 L629.92 912.00 L630.94 912.00 L631.97 912.00 L632.99 912.00 L634.01 912.00 L635.04 912.00 L636.06 912.00 L637.09 912.00 L638.11 912.00 L639.13 912.00 L640.16 912.00 L641.18 912.00 L642.21 912.00 L643.23 912.00 L644.26 912.00 L645.28 912.00 L646.30 912.00 L647.33 912.00 L648.35 912.00 L649.38 912.00 L650.40 912.00 L651.42 912.00 L652.45 912.00 L653.47 912.00 L654.50 912.00 L655.52 912.00 L656.55 912.00 L657.57 912.00 L658.59 912.00 L659.62 912.00 L660.64 912.00 L661.67 912.00 L662.69 912.00 L663.72 912.00 L664.74 912.00 L665.76 912.00 L666.79 912.00 L667.81 912.00 L668.84 912.00 L669.86 912.00 L670.88 912.00 L671.91 912.00 L672.93 912.00 L673.96 912.00 L674.98 912.00 L676.01 912.00 L677.03 912.00 L678.05 912.00 L679.08 912.00 L680.10 912.00 L681.13 912.00 L682.15 912.00 L683.17 912.00 L684.20 912.00 L685.22 912.00 L686.25 912.00 L687.27 912.00 L688.30 912.00 L689.32 912.00 L690.34 912.00 L691.37 912.00 L692.39 912.00 L693.42 912.00 L694.44 912.00 L695.47 912.00 L696.49 912.00 L697.51 912.00 L698.54 912.00 L699.56 912.00 L700.59 912.00 L701.61 912.00 L702.63 912.00 L703.66 912.00 L704.68 912.00 L705.71 912.00 L706.73 912.00 L707.76 912.00 L708.78 912.00 L709.80 912.00 L710.83 912.00 L711.85 912.00 L712.88 912.00 L713.90 912.00 L714.93 912.00 L715.95 912.00 L716.97 912.00 L718.00 912.00 L719.02 912.00 L720.05 912.00 L721.07 912.00 L722.09 912.00 L723.12 912.00 L724.14 912.00 L725.17 912.00 L726.19 912.00 L727.22 912.00 L728.24 912.00 L729.26 912.00 L730.29 912.00 L731.31 912.00 L732.34 912.00 L733.36 912.00 L734.38 912.00 L735.41 912.00 L736.43 912.00 L737.46 912.00 L738.48 912.00 L739.51 912.00 L740.53 912.00 L741.55 912.00 L742.58 912.00 L743.60 912.00 L744.63 912.00 L745.57 912.00 L745.57 991.45 L744.63 974.26 L743.60 965.56 L742.58 961.39 L741.55 958.86 L740.53 956.33 L739.51 954.54 L738.48 953.12 L737.46 951.69 L736.43 950.27 L735.41 948.85 L734.38 947.42 L733.36 946.69 L732.34 945.97 L731.31 945.24 L730.29 944.51 L729.26 943.78 L728.24 943.06 L727.22 942.33 L726.19 941.62 L725.17 941.14 L724.14 940.66 L723.12 940.18 L722.09 939.70 L721.07 939.22 L720.05 938.74 L719.02 938.26 L718.00 937.78 L716.97 937.30 L715.95 936.82 L714.93 936.34 L713.90 935.87 L712.88 935.54 L711.85 935.21 L710.83 934.88 L709.80 934.55 L708.78 934.22 L707.76 933.89 L706.73 933.57 L705.71 933.24 L704.68 932.91 L703.66 932.58 L702.63 932.25 L701.61 931.92 L700.59 931.59 L699.56 931.26 L698.54 930.93 L697.51 930.60 L696.49 930.27 L695.47 930.00 L694.44 929.78 L693.42 929.56 L692.39 929.33 L691.37 929.11 L690.34 928.88 L689.32 928.66 L688.30 928.44 L687.27 928.21 L686.25 927.99 L685.22 927.77 L684.20 927.54 L683.17 927.32 L682.15 927.09 L681.13 926.87 L680.10 926.65 L679.08 926.42 L678.05 926.20 L677.03 926.06 L676.01 925.91 L674.98 925.77 L673.96 925.62 L672.93 925.48 L671.91 925.33 L670.88 925.19 L669.86 925.04 L668.84 924.90 L667.81 924.75 L666.79 924.61 L665.76 924.46 L664.74 924.32 L663.72 924.17 L662.69 924.03 L661.67 923.88 L660.64 923.74 L659.62 923.59 L658.59 923.44 L657.57 923.30 L656.55 923.15 L655.52 923.01 L654.50 922.86 L653.47 922.72 L652.45 922.57 L651.42 922.43 L650.40 922.28 L649.38 922.14 L648.35 921.99 L647.33 921.85 L646.30 921.70 L645.28 921.56 L644.26 921.41 L643.23 921.27 L642.21 921.13 L641.18 921.07 L640.16 921.00 L639.13 920.94 L638.11 920.87 L637.09 920.81 L636.06 920.74 L635.04 920.67 L634.01 920.61 L632.99 920.54 L631.97 920.48 L630.94 920.41 L629.92 920.34 L628.89 920.28 L627.87 920.21 L626.84 920.15 L625.82 920.08 L624.80 920.01 L623.77 919.95 L622.75 919.88 L621.72 919.82 L620.70 919.75 L619.67 919.69 L618.65 919.62 L617.63 919.55 L616.60 919.49 L615.58 919.42 L614.55 919.36 L613.53 919.29 L612.51 919.22 L611.48 919.16 L610.46 919.09 L609.43 919.03 L608.41 918.96 L607.38 918.90 L606.36 918.83 L605.34 918.77 L604.31 918.71 L603.29 918.65 L602.26 918.59 L601.24 918.53 L600.21 918.47 L599.19 918.41 L598.17 918.36 L597.14 918.30 L596.12 918.24 L595.09 918.18 L594.07 918.12 L593.05 918.06 L592.02 918.00 L591.00 917.94 L589.97 917.88 L588.95 917.82 L587.92 917.76 L586.90 917.70 L585.88 917.64 L584.85 917.58 L583.83 917.52 L582.80 917.46 L581.78 917.40 L580.75 917.35 L579.73 917.29 L578.71 917.23 L577.68 917.17 L576.66 917.11 L575.63 917.05 L574.61 916.99 L573.59 916.93 L572.56 916.87 L571.54 916.81 L570.51 916.75 L569.49 916.69 L568.46 916.63 L567.44 916.57 L566.42 916.51 L565.39 916.45 L564.37 916.39 L563.34 916.34 L562.32 916.28 L561.30 916.22 L560.27 916.16 L559.25 916.10 L558.22 916.04 L557.20 915.98 L556.17 915.92 L555.15 915.86 L554.13 915.80 L553.10 915.74 L552.08 915.68 L551.05 915.62 L550.03 915.56 L549.00 915.50 L547.98 915.44 L546.96 915.38 L545.93 915.33 L544.91 915.27 L543.88 915.21 L542.86 915.15 L541.84 915.09 L540.81 915.03 L539.79 914.97 L538.76 914.91 L537.74 914.85 L536.71 914.79 L535.69 914.73 L534.67 914.65 L533.64 914.51 L532.62 914.38 L531.59 914.30 L530.57 914.30 L529.55 914.30 L528.52 914.30 L527.50 914.30 L526.47 914.30 L525.45 914.30 L524.42 914.30 L523.40 914.30 L522.38 914.30 L521.35 914.30 L520.33 914.30 L519.30 914.30 L518.28 914.30 L517.25 914.30 L516.23 914.30 L515.21 914.30 L514.18 914.30 L513.16 914.30 L512.13 914.30 L511.11 914.30 L510.09 914.30 L509.06 914.30 L508.04 914.30 L507.01 914.30 L505.99 914.30 L504.96 914.30 L503.94 914.30 L502.92 914.30 L501.89 914.30 L500.87 914.30 L499.84 914.30 L498.82 914.30 L497.79 914.30 L496.77 914.30 L495.75 914.30 L494.72 914.30 L493.70 914.30 L492.67 914.30 L491.65 914.30 L490.63 914.30 L489.60 914.30 L488.58 914.30 L487.55 914.30 L486.53 914.30 L485.50 914.30 L484.48 914.30 L483.46 914.30 L482.43 914.30 L481.41 914.30 L480.38 914.30 L479.36 914.30 L478.34 914.30 L477.31 914.30 L476.29 914.30 L475.26 914.30 L474.24 914.30 L473.21 914.30 L472.19 914.30 L471.17 914.30 L470.14 914.30 L469.12 914.30 L468.09 914.30 L467.07 914.30 L466.04 914.30 L465.02 914.30 L464.00 914.30 L462.97 914.30 L461.95 914.30 L460.92 914.30 L459.90 914.30 L458.88 914.30 L457.85 914.30 L456.83 914.30 L455.80 914.30 L454.78 914.30 L453.75 914.30 L452.73 914.30 L451.71 914.30 L450.68 914.30 L449.66 914.30 L448.63 914.30 L447.61 914.30 L446.58 914.30 L445.56 914.30 L444.54 914.30 L443.51 914.30 L442.49 914.30 L441.46 914.30 L440.44 914.30 L439.42 914.30 L438.39 914.30 L437.37 914.30 L436.34 914.30 L435.32 914.30 L434.29 914.30 L433.27 914.30 L432.25 914.30 L431.22 914.30 L430.20 914.30 L429.17 914.30 L428.15 914.30 L427.12 914.30 L426.10 914.30 L425.08 914.30 L424.05 914.30 L423.03 914.30 L422.00 914.30 L420.98 914.30 L419.96 914.30 L418.93 914.30 L417.91 914.30 L416.88 914.30 L415.86 914.30 L414.83 914.30 L413.81 914.30 L412.79 914.30 L411.76 914.30 L410.74 914.30 L409.71 914.30 L408.69 914.30 L407.67 914.30 L406.64 914.30 L405.62 914.30 L404.59 914.30 L403.57 914.30 L402.54 914.30 L401.52 914.30 L400.50 914.30 L399.47 914.30 L398.45 914.30 L397.42 914.30 L396.40 914.30 L395.37 914.30 L394.35 914.30 L393.33 914.30 L392.30 914.30 L391.28 914.30 L390.25 914.30 L389.23 914.30 L388.21 914.30 L387.18 914.30 L386.16 914.30 L385.13 914.30 L384.11 914.30 L383.08 914.30 L382.06 914.30 L381.04 914.30 L380.01 914.30 L378.99 914.30 L377.96 914.30 L376.94 914.30 L375.92 914.30 L374.89 914.30 L373.87 914.30 L372.84 914.30 L371.82 914.30 L370.79 914.30 L369.77 914.30 L368.75 914.30 L367.72 914.30 L366.70 914.30 L365.67 914.30 L364.65 914.30 L363.62 914.30 L362.60 914.30 L361.58 914.30 L360.55 914.30 L359.53 914.30 L358.50 914.30 L357.48 914.30 L356.46 914.30 L355.43 914.30 L354.41 914.30 L353.38 914.30 L352.36 914.30 L351.33 914.30 L350.31 914.30 L349.29 914.30 L348.26 914.30 L347.24 914.30 L346.21 914.30 L345.19 914.30 L344.16 914.30 L343.14 914.30 L342.12 914.30 L341.09 914.30 L340.07 914.30 L339.04 914.30 L338.02 914.30 L337.00 914.30 L335.97 914.30 L334.95 914.30 L333.92 914.30 L332.90 914.30 L331.87 914.30 L330.85 914.30 L329.83 914.30 L328.80 914.30 L327.78 914.30 L326.75 914.30 L325.73 914.30 L324.71 914.30 L323.68 914.30 L322.66 914.30 L321.63 914.30 L320.61 914.30 L319.58 914.30 L318.56 914.30 L317.54 914.30 L316.51 914.30 L315.49 914.30 L314.46 914.30 L313.44 914.30 L312.41 914.30 L311.39 914.30 L310.37 914.30 L309.34 914.30 L308.32 914.30 L307.29 914.30 L306.27 914.30 L305.25 914.30 L304.22 914.30 L303.20 914.30 L302.17 914.30 L301.15 914.30 L300.47 914.30 L300.12 914.30 L299.78 914.30 L299.36 914.30 L299.10 914.30Z" fill="#c0c0c0"/>
<line x1="530.3" y1="858" x2="530.3" y2="997.6" stroke="#a0a0a0" stroke-width="1" stroke-dasharray="4 3"/>
<rect x="300.4" y="773.7" width="450.2" height="84.1" fill="#fff"/>
<rect x="299.80" y="773.7" width="140.70" height="67.3" fill="#000"/>
<rect x="303.33" y="773.7" width="0.52" height="67.3" fill="#1c1c1c"/>
<rect x="308.04" y="773.7" width="0.49" height="67.3" fill="#2a2a2a"/>
<rect x="311.66" y="773.7" width="0.66" height="67.3" fill="#444"/>
<rect x="314.07" y="773.7" width="0.39" height="67.3" fill="#444"/>
<rect x="317.46" y="773.7" width="0.52" height="67.3" fill="#444"/>
<rect x="321.20" y="773.7" width="0.36" height="67.3" fill="#3a3a3a"/>
<rect x="325.73" y="773.7" width="0.51" height="67.3" fill="#2a2a2a"/>
<rect x="329.58" y="773.7" width="0.33" height="67.3" fill="#2a2a2a"/>
<rect x="332.14" y="773.7" width="0.31" height="67.3" fill="#1c1c1c"/>
<rect x="335.29" y="773.7" width="0.59" height="67.3" fill="#444"/>
<rect x="339.29" y="773.7" width="0.67" height="67.3" fill="#444"/>
<rect x="343.34" y="773.7" width="0.53" height="67.3" fill="#3a3a3a"/>
<rect x="347.92" y="773.7" width="0.34" height="67.3" fill="#3a3a3a"/>
<rect x="351.15" y="773.7" width="0.40" height="67.3" fill="#444"/>
<rect x="355.38" y="773.7" width="0.64" height="67.3" fill="#444"/>
<rect x="358.65" y="773.7" width="0.45" height="67.3" fill="#1c1c1c"/>
<rect x="362.02" y="773.7" width="0.46" height="67.3" fill="#3a3a3a"/>
<rect x="366.69" y="773.7" width="0.57" height="67.3" fill="#2a2a2a"/>
<rect x="371.18" y="773.7" width="0.70" height="67.3" fill="#3a3a3a"/>
<rect x="375.13" y="773.7" width="0.43" height="67.3" fill="#2a2a2a"/>
<rect x="379.13" y="773.7" width="0.38" height="67.3" fill="#1c1c1c"/>
<rect x="381.62" y="773.7" width="0.33" height="67.3" fill="#444"/>
<rect x="383.43" y="773.7" width="0.62" height="67.3" fill="#444"/>
<rect x="388.07" y="773.7" width="0.31" height="67.3" fill="#444"/>
<rect x="392.26" y="773.7" width="0.65" height="67.3" fill="#2a2a2a"/>
<rect x="395.88" y="773.7" width="0.60" height="67.3" fill="#444"/>
<rect x="399.90" y="773.7" width="0.43" height="67.3" fill="#1c1c1c"/>
<rect x="403.16" y="773.7" width="0.70" height="67.3" fill="#1c1c1c"/>
<rect x="404.69" y="773.7" width="0.34" height="67.3" fill="#2a2a2a"/>
<rect x="409.51" y="773.7" width="0.69" height="67.3" fill="#1c1c1c"/>
<rect x="413.15" y="773.7" width="0.36" height="67.3" fill="#2a2a2a"/>
<rect x="418.08" y="773.7" width="0.44" height="67.3" fill="#1c1c1c"/>
<rect x="422.93" y="773.7" width="0.66" height="67.3" fill="#444"/>
<rect x="425.75" y="773.7" width="0.65" height="67.3" fill="#444"/>
<rect x="429.51" y="773.7" width="0.54" height="67.3" fill="#2a2a2a"/>
<rect x="433.18" y="773.7" width="0.68" height="67.3" fill="#1c1c1c"/>
<rect x="436.18" y="773.7" width="0.59" height="67.3" fill="#3a3a3a"/>
<rect x="440.96" y="773.7" width="0.47" height="67.3" fill="#1c1c1c"/>
<rect x="399.00" y="773.7" width="0.70" height="67.3" fill="#333"/>
<rect x="400.40" y="773.7" width="0.70" height="67.3" fill="#555"/>
<rect x="401.80" y="773.7" width="0.70" height="67.3" fill="#333"/>
<rect x="403.20" y="773.7" width="0.70" height="67.3" fill="#555"/>
<rect x="404.60" y="773.7" width="0.70" height="67.3" fill="#444"/>
<rect x="406.00" y="773.7" width="0.70" height="67.3" fill="#555"/>
<rect x="407.40" y="773.7" width="0.70" height="67.3" fill="#333"/>
<rect x="331.93" y="773.7" width="3.08" height="67.3" fill="#fff"/>
<rect x="337.32" y="773.7" width="1.23" height="67.3" fill="#999"/>
<rect x="339.63" y="773.7" width="2.62" height="67.3" fill="#fff"/>
<rect x="348.11" y="773.7" width="1.23" height="67.3" fill="#888"/>
<rect x="355.81" y="773.7" width="3.85" height="67.3" fill="#fff"/>
<rect x="361.66" y="773.7" width="1.08" height="67.3" fill="#999"/>
<rect x="365.36" y="773.7" width="1.23" height="67.3" fill="#bbb"/>
<rect x="369.67" y="773.7" width="2.31" height="67.3" fill="#fff"/>
<rect x="375.06" y="773.7" width="3.08" height="67.3" fill="#ddd"/>
<rect x="378.92" y="773.7" width="1.85" height="67.3" fill="#fff"/>
<rect x="386.62" y="773.7" width="1.85" height="67.3" fill="#ccc"/>
<rect x="389.70" y="773.7" width="1.23" height="67.3" fill="#999"/>
<rect x="391.55" y="773.7" width="2.00" height="67.3" fill="#fff"/>
<rect x="395.09" y="773.7" width="1.54" height="67.3" fill="#999"/>
<rect x="409.42" y="773.7" width="1.23" height="67.3" fill="#999"/>
<rect x="412.80" y="773.7" width="1.54" height="67.3" fill="#ccc"/>
<rect x="417.43" y="773.7" width="0.92" height="67.3" fill="#999"/>
<rect x="423.59" y="773.7" width="1.54" height="67.3" fill="#999"/>
<rect x="426.67" y="773.7" width="3.08" height="67.3" fill="#fff"/>
<rect x="431.29" y="773.7" width="1.54" height="67.3" fill="#ddd"/>
<rect x="433.60" y="773.7" width="4.62" height="67.3" fill="#fff"/>
<rect x="440.53" y="773.7" width="1.54" height="67.3" fill="#999"/>
<rect x="442.84" y="773.7" width="2.16" height="67.3" fill="#fff"/>
<rect x="440.69" y="773.7" width="2.00" height="67.3" fill="#111"/>
<rect x="442.33" y="773.7" width="1.20" height="67.3" fill="#777"/>
<rect x="443.18" y="773.7" width="1.80" height="67.3" fill="#111"/>
<rect x="447.12" y="773.7" width="2.40" height="67.3" fill="#333"/>
<rect x="449.17" y="773.7" width="0.60" height="67.3" fill="#777"/>
<rect x="449.47" y="773.7" width="2.00" height="67.3" fill="#111"/>
<rect x="454.77" y="773.7" width="2.80" height="67.3" fill="#1a1a1a"/>
<rect x="457.07" y="773.7" width="1.60" height="67.3" fill="#777"/>
<rect x="458.14" y="773.7" width="3.00" height="67.3" fill="#000"/>
<rect x="460.56" y="773.7" width="2.00" height="67.3" fill="#333"/>
<rect x="461.74" y="773.7" width="5.21" height="67.3" fill="#000"/>
<rect x="466.18" y="773.7" width="1.40" height="67.3" fill="#bbb"/>
<rect x="467.26" y="773.7" width="1.40" height="67.3" fill="#505050"/>
<rect x="469.92" y="773.7" width="1.00" height="67.3" fill="#666"/>
<rect x="473.54" y="773.7" width="3.00" height="67.3" fill="#000"/>
<rect x="478.33" y="773.7" width="1.60" height="67.3" fill="#505050"/>
<rect x="481.12" y="773.7" width="1.40" height="67.3" fill="#111"/>
<rect x="487.33" y="773.7" width="1.00" height="67.3" fill="#505050"/>
<rect x="490.70" y="773.7" width="1.20" height="67.3" fill="#505050"/>
<rect x="494.45" y="773.7" width="2.00" height="67.3" fill="#222"/>
<rect x="497.95" y="773.7" width="2.40" height="67.3" fill="#000"/>
<rect x="501.43" y="773.7" width="1.60" height="67.3" fill="#505050"/>
<rect x="505.31" y="773.7" width="1.40" height="67.3" fill="#505050"/>
<rect x="509.13" y="773.7" width="1.60" height="67.3" fill="#1a1a1a"/>
<rect x="519.87" y="773.7" width="2.00" height="67.3" fill="#505050"/>
<rect x="524.23" y="773.7" width="1.60" height="67.3" fill="#505050"/>
<rect x="527.97" y="773.7" width="1.20" height="67.3" fill="#1a1a1a"/>
<rect x="535.32" y="773.7" width="1.60" height="67.3" fill="#505050"/>
<rect x="539.13" y="773.7" width="2.00" height="67.3" fill="#222"/>
<rect x="545.36" y="773.7" width="1.40" height="67.3" fill="#505050"/>
<rect x="549.23" y="773.7" width="1.20" height="67.3" fill="#505050"/>
<rect x="551.03" y="773.7" width="1.60" height="67.3" fill="#1a1a1a"/>
<rect x="553.41" y="773.7" width="1.00" height="67.3" fill="#1a1a1a"/>
<rect x="556.63" y="773.7" width="3.80" height="67.3" fill="#222"/>
<rect x="565.75" y="773.7" width="1.80" height="67.3" fill="#0a0a0a"/>
<rect x="567.52" y="773.7" width="1.80" height="67.3" fill="#0a0a0a"/>
<rect x="570.18" y="773.7" width="1.20" height="67.3" fill="#0a0a0a"/>
<rect x="574.02" y="773.7" width="1.20" height="67.3" fill="#0a0a0a"/>
<rect x="579.93" y="773.7" width="1.20" height="67.3" fill="#0a0a0a"/>
<rect x="582.88" y="773.7" width="1.20" height="67.3" fill="#0a0a0a"/>
<rect x="588.18" y="773.7" width="2.40" height="67.3" fill="#0a0a0a"/>
<rect x="590.26" y="773.7" width="1.80" height="67.3" fill="#0a0a0a"/>
<rect x="593.21" y="773.7" width="1.20" height="67.3" fill="#0a0a0a"/>
<rect x="596.76" y="773.7" width="1.20" height="67.3" fill="#0a0a0a"/>
<rect x="602.07" y="773.7" width="1.20" height="67.3" fill="#0a0a0a"/>
<rect x="610.34" y="773.7" width="1.20" height="67.3" fill="#0a0a0a"/>
<rect x="612.40" y="773.7" width="1.20" height="67.3" fill="#0a0a0a"/>
<rect x="615.36" y="773.7" width="1.20" height="67.3" fill="#0a0a0a"/>
<rect x="619.79" y="773.7" width="1.20" height="67.3" fill="#0a0a0a"/>
<rect x="625.69" y="773.7" width="1.20" height="67.3" fill="#0a0a0a"/>
<rect x="628.05" y="773.7" width="1.20" height="67.3" fill="#0a0a0a"/>
<rect x="631.00" y="773.7" width="1.20" height="67.3" fill="#0a0a0a"/>
<rect x="634.83" y="773.7" width="2.40" height="67.3" fill="#0a0a0a"/>
<rect x="636.60" y="773.7" width="2.40" height="67.3" fill="#0a0a0a"/>
<rect x="644.00" y="773.7" width="1.20" height="67.3" fill="#0a0a0a"/>
<rect x="646.06" y="773.7" width="1.80" height="67.3" fill="#0a0a0a"/>
<rect x="649.31" y="773.7" width="1.20" height="67.3" fill="#0a0a0a"/>
<rect x="653.74" y="773.7" width="1.20" height="67.3" fill="#0a0a0a"/>
<rect x="663.77" y="773.7" width="1.80" height="67.3" fill="#0a0a0a"/>
<rect x="666.14" y="773.7" width="1.20" height="67.3" fill="#0a0a0a"/>
<rect x="673.22" y="773.7" width="1.80" height="67.3" fill="#0a0a0a"/>
<rect x="677.36" y="773.7" width="1.20" height="67.3" fill="#0a0a0a"/>
<rect x="680.31" y="773.7" width="1.20" height="67.3" fill="#0a0a0a"/>
<rect x="683.26" y="773.7" width="1.20" height="67.3" fill="#0a0a0a"/>
<rect x="689.17" y="773.7" width="1.20" height="67.3" fill="#0a0a0a"/>
<rect x="691.53" y="773.7" width="1.20" height="67.3" fill="#0a0a0a"/>
<rect x="699.20" y="773.7" width="1.80" height="67.3" fill="#0a0a0a"/>
<rect x="702.46" y="773.7" width="1.20" height="67.3" fill="#0a0a0a"/>
<rect x="704.52" y="773.7" width="1.20" height="67.3" fill="#0a0a0a"/>
<rect x="713.97" y="773.7" width="1.80" height="67.3" fill="#0a0a0a"/>
<rect x="716.33" y="773.7" width="1.80" height="67.3" fill="#0a0a0a"/>
<rect x="721.06" y="773.7" width="1.20" height="67.3" fill="#0a0a0a"/>
<rect x="728.14" y="773.7" width="1.80" height="67.3" fill="#0a0a0a"/>
<rect x="730.20" y="773.7" width="1.80" height="67.3" fill="#0a0a0a"/>
<rect x="736.41" y="773.7" width="1.20" height="67.3" fill="#0a0a0a"/>
<rect x="744.08" y="773.7" width="1.80" height="67.3" fill="#0a0a0a"/>
<rect x="299.8" y="841" width="32.0" height="16.8" fill="#d23c3c"/>
<rect x="331.5" y="841" width="65.2" height="16.8" fill="#f85858"/>
<rect x="396.4" y="841" width="47.5" height="16.8" fill="#dc5870"/>
<rect x="443.6" y="841" width="36.3" height="16.8" fill="#f28080"/>
<rect x="479.6" y="841" width="50.5" height="16.8" fill="#f6b0e2"/>
<rect x="529.8" y="841" width="105.3" height="16.8" fill="#c8c8fc"/>
<rect x="634.8" y="841" width="31.5" height="16.8" fill="#8484f8"/>
<rect x="666" y="841" width="56.3" height="16.8" fill="#5c48e8"/>
<rect x="722" y="841" width="19.3" height="16.8" fill="#2a10d0"/>
<rect x="741" y="841" width="4.7" height="16.8" fill="#4a10b8"/>
<rect x="300.50" y="841" width="0.91" height="16.8" fill="#701010" opacity="0.50"/>
<rect x="303.49" y="841" width="0.92" height="16.8" fill="#701010" opacity="0.48"/>
<rect x="305.94" y="841" width="0.67" height="16.8" fill="#701010" opacity="0.48"/>
<rect x="308.22" y="841" width="1.21" height="16.8" fill="#701010" opacity="0.29"/>
<rect x="310.52" y="841" width="0.58" height="16.8" fill="#701010" opacity="0.61"/>
<rect x="312.81" y="841" width="0.54" height="16.8" fill="#701010" opacity="0.69"/>
<rect x="315.49" y="841" width="1.09" height="16.8" fill="#701010" opacity="0.53"/>
<rect x="317.43" y="841" width="0.51" height="16.8" fill="#701010" opacity="0.49"/>
<rect x="318.64" y="841" width="0.67" height="16.8" fill="#701010" opacity="0.36"/>
<rect x="319.96" y="841" width="0.92" height="16.8" fill="#701010" opacity="0.45"/>
<rect x="322.82" y="841" width="0.97" height="16.8" fill="#701010" opacity="0.54"/>
<rect x="325.19" y="841" width="1.10" height="16.8" fill="#701010" opacity="0.46"/>
<rect x="327.33" y="841" width="1.40" height="16.8" fill="#701010" opacity="0.70"/>
<rect x="330.67" y="841" width="1.14" height="16.8" fill="#701010" opacity="0.39"/>
<rect x="332.00" y="841" width="0.54" height="16.8" fill="#802020" opacity="0.23"/>
<rect x="336.73" y="841" width="0.60" height="16.8" fill="#802020" opacity="0.54"/>
<rect x="340.18" y="841" width="0.88" height="16.8" fill="#802020" opacity="0.54"/>
<rect x="342.56" y="841" width="0.50" height="16.8" fill="#802020" opacity="0.56"/>
<rect x="346.21" y="841" width="0.89" height="16.8" fill="#802020" opacity="0.36"/>
<rect x="348.86" y="841" width="0.71" height="16.8" fill="#802020" opacity="0.51"/>
<rect x="352.02" y="841" width="0.44" height="16.8" fill="#802020" opacity="0.33"/>
<rect x="357.33" y="841" width="0.78" height="16.8" fill="#802020" opacity="0.25"/>
<rect x="360.47" y="841" width="0.45" height="16.8" fill="#802020" opacity="0.22"/>
<rect x="365.21" y="841" width="0.49" height="16.8" fill="#802020" opacity="0.42"/>
<rect x="368.77" y="841" width="0.50" height="16.8" fill="#802020" opacity="0.49"/>
<rect x="371.22" y="841" width="0.72" height="16.8" fill="#802020" opacity="0.25"/>
<rect x="374.92" y="841" width="0.51" height="16.8" fill="#802020" opacity="0.31"/>
<rect x="380.32" y="841" width="0.80" height="16.8" fill="#802020" opacity="0.32"/>
<rect x="385.72" y="841" width="0.51" height="16.8" fill="#802020" opacity="0.36"/>
<rect x="390.72" y="841" width="0.72" height="16.8" fill="#802020" opacity="0.24"/>
<rect x="396.40" y="841" width="0.51" height="16.8" fill="#802020" opacity="0.30"/>
<rect x="401.11" y="841" width="0.56" height="16.8" fill="#802020" opacity="0.32"/>
<rect x="403.43" y="841" width="0.45" height="16.8" fill="#802020" opacity="0.43"/>
<rect x="406.23" y="841" width="0.70" height="16.8" fill="#802020" opacity="0.35"/>
<rect x="410.01" y="841" width="0.88" height="16.8" fill="#802020" opacity="0.39"/>
<rect x="414.41" y="841" width="0.83" height="16.8" fill="#802020" opacity="0.27"/>
<rect x="417.28" y="841" width="0.85" height="16.8" fill="#802020" opacity="0.53"/>
<rect x="420.51" y="841" width="0.49" height="16.8" fill="#802020" opacity="0.50"/>
<rect x="425.79" y="841" width="0.50" height="16.8" fill="#802020" opacity="0.58"/>
<rect x="430.88" y="841" width="0.70" height="16.8" fill="#802020" opacity="0.37"/>
<rect x="433.44" y="841" width="0.42" height="16.8" fill="#802020" opacity="0.59"/>
<rect x="436.20" y="841" width="0.75" height="16.8" fill="#802020" opacity="0.30"/>
<rect x="441.33" y="841" width="0.70" height="16.8" fill="#802020" opacity="0.32"/>
<rect x="444.14" y="841" width="0.76" height="16.8" fill="#802020" opacity="0.23"/>
<rect x="447.20" y="841" width="0.68" height="16.8" fill="#802020" opacity="0.54"/>
<rect x="451.53" y="841" width="0.54" height="16.8" fill="#802020" opacity="0.57"/>
<rect x="454.29" y="841" width="0.41" height="16.8" fill="#802020" opacity="0.31"/>
<rect x="457.76" y="841" width="0.43" height="16.8" fill="#802020" opacity="0.27"/>
<rect x="460.98" y="841" width="0.69" height="16.8" fill="#802020" opacity="0.25"/>
<rect x="464.43" y="841" width="0.85" height="16.8" fill="#802020" opacity="0.59"/>
<rect x="469.08" y="841" width="0.75" height="16.8" fill="#802020" opacity="0.43"/>
<rect x="471.81" y="841" width="0.42" height="16.8" fill="#802020" opacity="0.21"/>
<rect x="476.92" y="841" width="0.75" height="16.8" fill="#802020" opacity="0.59"/>
<rect x="482.00" y="841" width="0.72" height="16.8" fill="#404080" opacity="0.23"/>
<rect x="490.10" y="841" width="0.56" height="16.8" fill="#404080" opacity="0.35"/>
<rect x="494.11" y="841" width="0.67" height="16.8" fill="#404080" opacity="0.29"/>
<rect x="503.19" y="841" width="0.77" height="16.8" fill="#404080" opacity="0.28"/>
<rect x="511.71" y="841" width="0.86" height="16.8" fill="#404080" opacity="0.20"/>
<rect x="519.68" y="841" width="0.85" height="16.8" fill="#404080" opacity="0.32"/>
<rect x="526.04" y="841" width="0.80" height="16.8" fill="#404080" opacity="0.32"/>
<rect x="533.27" y="841" width="0.71" height="16.8" fill="#404080" opacity="0.21"/>
<rect x="540.48" y="841" width="0.70" height="16.8" fill="#404080" opacity="0.14"/>
<rect x="548.02" y="841" width="0.90" height="16.8" fill="#404080" opacity="0.32"/>
<rect x="556.28" y="841" width="0.59" height="16.8" fill="#404080" opacity="0.29"/>
<rect x="563.36" y="841" width="0.62" height="16.8" fill="#404080" opacity="0.31"/>
<rect x="567.49" y="841" width="0.78" height="16.8" fill="#404080" opacity="0.13"/>
<rect x="574.87" y="841" width="0.64" height="16.8" fill="#404080" opacity="0.17"/>
<rect x="582.70" y="841" width="0.65" height="16.8" fill="#404080" opacity="0.26"/>
<rect x="591.87" y="841" width="0.53" height="16.8" fill="#404080" opacity="0.12"/>
<rect x="597.21" y="841" width="0.74" height="16.8" fill="#404080" opacity="0.17"/>
<rect x="601.96" y="841" width="0.85" height="16.8" fill="#404080" opacity="0.27"/>
<rect x="608.47" y="841" width="0.85" height="16.8" fill="#404080" opacity="0.20"/>
<rect x="616.31" y="841" width="0.50" height="16.8" fill="#404080" opacity="0.22"/>
<rect x="624.64" y="841" width="0.86" height="16.8" fill="#404080" opacity="0.32"/>
<rect x="630.81" y="841" width="0.69" height="16.8" fill="#404080" opacity="0.19"/>
<rect x="635.32" y="841" width="0.65" height="16.8" fill="#404080" opacity="0.31"/>
<rect x="644.06" y="841" width="0.76" height="16.8" fill="#404080" opacity="0.34"/>
<rect x="649.47" y="841" width="0.48" height="16.8" fill="#404080" opacity="0.22"/>
<rect x="654.61" y="841" width="0.51" height="16.8" fill="#404080" opacity="0.22"/>
<rect x="661.87" y="841" width="0.65" height="16.8" fill="#404080" opacity="0.19"/>
<rect x="670.55" y="841" width="0.89" height="16.8" fill="#404080" opacity="0.22"/>
<rect x="674.89" y="841" width="0.42" height="16.8" fill="#404080" opacity="0.32"/>
<rect x="678.55" y="841" width="0.75" height="16.8" fill="#404080" opacity="0.25"/>
<rect x="684.16" y="841" width="0.80" height="16.8" fill="#404080" opacity="0.12"/>
<rect x="688.77" y="841" width="0.63" height="16.8" fill="#404080" opacity="0.13"/>
<rect x="697.38" y="841" width="0.52" height="16.8" fill="#404080" opacity="0.15"/>
<rect x="701.18" y="841" width="0.71" height="16.8" fill="#404080" opacity="0.22"/>
<rect x="708.67" y="841" width="0.73" height="16.8" fill="#404080" opacity="0.31"/>
<rect x="718.15" y="841" width="0.74" height="16.8" fill="#404080" opacity="0.17"/>
<rect x="724.75" y="841" width="0.49" height="16.8" fill="#404080" opacity="0.12"/>
<rect x="731.07" y="841" width="0.76" height="16.8" fill="#404080" opacity="0.16"/>
<rect x="736.46" y="841" width="0.57" height="16.8" fill="#404080" opacity="0.28"/>
<rect x="743.15" y="841" width="0.71" height="16.8" fill="#404080" opacity="0.29"/>
<path d="M299.9 742.5 L299.8 740.7 L299.9 740.0 L300.3 738.4 L300.5 735.9 L300.6 734.4 L300.5 733.1 L301.2 732.5 L300.9 730.4 L301.6 730.1 L301.4 728.6 L301.6 727.0 L301.4 726.7 L301.8 725.1 L301.9 722.2 L302.7 721.3 L302.7 719.7 L302.7 719.3 L302.7 717.8 L303.0 715.4 L303.3 715.5 L303.7 713.3 L303.8 712.4 L303.8 710.9 L304.3 710.3 L304.4 707.8 L304.8 707.0 L304.5 706.1 L304.5 705.3 L305.2 702.7 L305.1 700.7 L305.5 699.1 L305.6 699.4 L305.5 698.2 L305.9 696.5 L306.0 694.7 L306.1 693.5 L306.7 692.7 L306.6 690.6 L306.8 688.3 L307.2 688.2 L306.8 687.2 L307.3 684.9 L307.3 682.8 L307.2 681.7 L307.9 680.1 L307.7 678.9 L308.3 678.1 L308.2 677.0 L308.5 674.8 L309.1 674.5 L309.4 673.7 L309.3 671.2 L310.0 670.1 L309.7 670.1 L310.1 667.0 L310.6 665.9 L310.7 665.3 L311.2 663.8 L311.4 661.4 L311.7 660.9 L312.0 660.8 L312.2 658.6 L311.9 657.6 L312.7 656.8 L313.0 655.4 L312.9 653.0 L313.3 651.0 L313.4 650.6 L313.3 648.3 L313.6 647.3 L313.8 646.3 L314.1 644.3 L314.5 643.2 L315.2 641.7 L314.8 641.7 L315.2 639.6 L315.6 638.8 L315.7 637.0 L316.7 636.6 L316.7 634.3 L316.7 632.0 L317.2 631.1 L317.8 630.0 L317.9 629.4 L318.8 626.3 L318.5 626.1 L318.7 624.9 L319.8 623.5 L319.9 622.9 L319.9 620.3 L320.6 618.8 L320.7 618.2 L321.4 617.0 L321.3 615.3 L322.4 615.1 L322.7 613.9 L323.0 612.6 L323.3 610.1 L323.7 609.4 L324.8 608.0 L326.6 607.2 L327.2 604.9 L328.3 604.1 L328.8 604.3 L329.6 602.0 L330.1 601.6 L329.7 600.4 L329.7 597.4 L329.8 596.0 L330.4 595.6 L330.2 594.8 L330.5 593.1 L330.4 591.4 L331.9 590.8 L333.1 592.0 L334.9 592.0 L336.2 590.2 L337.7 591.2 L339.2 591.0 L340.7 590.2 L342.0 590.5 L343.1 590.8 L344.0 590.9 L345.4 588.7 L346.0 588.0 L346.2 587.0 L346.6 584.2 L347.5 584.4 L347.7 582.0 L349.0 579.9 L349.9 580.4 L350.8 578.0 L352.1 577.1 L353.0 576.1 L354.7 576.4 L356.1 578.1 L357.6 577.9 L358.5 578.5 L360.3 578.6 L361.3 579.7 L363.1 579.2 L364.2 578.4 L365.8 578.2 L367.0 578.5 L367.7 576.9 L368.9 575.6 L369.3 575.0 L370.1 574.3 L372.0 574.2 L373.5 573.5 L374.7 573.4 L376.0 574.2 L376.8 575.1 L378.5 575.9 L379.5 576.4 L381.3 576.0 L382.4 577.7 L383.6 576.5 L385.0 577.2 L386.2 576.2 L387.5 575.5 L389.0 575.6 L390.1 575.1 L391.4 574.7 L392.5 575.5 L393.9 576.5 L395.2 577.4 L396.7 577.2 L397.8 577.4 L399.3 578.1 L400.9 577.3 L402.4 576.9 L403.9 577.2 L405.0 577.3 L406.3 577.7 L408.2 577.1 L409.4 576.5 L411.2 577.4 L412.3 578.5 L414.0 578.0 L416.3 578.5 L417.8 578.8 L419.0 579.0 L420.8 576.9 L422.4 577.2 L423.5 576.8 L425.1 577.4 L426.3 578.9 L427.9 580.4 L429.1 579.9 L430.2 581.6 L431.4 582.6 L433.6 583.8 L434.8 583.6 L436.4 584.1 L437.3 585.6 L438.6 587.0 L440.2 588.8 L441.1 587.8 L442.5 589.3 L443.6 588.3 L444.9 587.3 L446.1 587.4 L447.2 589.3 L448.9 589.7 L450.3 590.4 L451.3 590.0 L452.7 592.0 L454.2 591.5 L455.4 593.7 L456.0 592.9 L457.6 593.4 L458.5 595.1 L459.6 594.4 L461.7 594.5 L462.6 595.2 L464.6 593.5 L465.7 594.1 L467.1 595.1 L467.9 594.9 L469.5 597.1 L470.8 597.6 L472.3 597.5 L473.3 599.5 L474.5 599.1 L475.7 599.8 L476.4 601.5 L478.0 602.5 L478.5 602.7 L479.7 604.1 L481.1 604.8 L481.8 604.8 L482.9 605.5 L484.0 606.8 L485.0 608.7 L485.9 608.9 L486.8 609.4 L487.9 610.0 L489.3 611.9 L490.3 611.5 L491.3 613.0 L492.1 614.8 L493.5 615.3 L495.0 615.4 L495.9 616.0 L497.4 617.4 L498.4 617.5 L499.4 619.1 L500.3 619.2 L501.6 620.2 L502.3 620.1 L503.9 621.0 L504.4 622.2 L506.0 622.7 L506.9 625.3 L507.6 624.9 L508.8 625.8 L509.8 626.3 L511.2 627.4 L511.9 628.8 L513.0 630.7 L514.3 630.0 L514.9 631.0 L515.9 631.2 L517.1 633.1 L518.1 633.4 L518.9 633.9 L520.1 634.9 L520.8 635.7 L522.2 637.6 L523.0 638.1 L524.3 639.6 L525.4 640.9 L526.6 641.8 L527.2 642.0 L528.0 644.2 L529.5 644.6 L530.6 644.0 L531.5 646.8 L532.4 646.9 L533.7 648.3 L534.5 647.9 L535.8 649.5 L536.8 651.1 L537.9 651.5 L538.7 652.6 L539.2 652.5 L540.5 653.1 L541.9 654.0 L542.7 655.7 L543.8 656.7 L544.9 657.7 L545.4 658.3 L547.0 659.8 L547.9 660.0 L548.5 661.2 L549.7 662.2 L550.8 661.6 L551.7 663.9 L553.0 664.3 L554.4 665.6 L554.9 665.9 L556.2 666.7 L557.2 668.2 L558.1 668.4 L559.0 669.4 L560.5 669.0 L561.8 671.0 L563.2 671.1 L564.0 672.0 L565.3 671.7 L566.8 673.9 L567.6 674.7 L568.9 675.1 L569.8 675.8 L571.0 677.6 L572.7 678.6 L573.5 678.3 L574.5 678.1 L575.9 680.7 L576.4 680.8 L578.0 681.1 L578.7 682.0 L579.7 682.7 L580.4 685.3 L581.7 685.9 L582.9 686.9 L583.8 686.9 L585.2 687.3 L585.5 688.8 L586.9 688.7 L587.8 690.7 L588.8 690.9 L590.0 692.7 L591.4 693.1 L592.4 693.3 L593.0 695.9 L594.5 696.9 L595.3 697.7 L596.4 697.4 L597.7 699.6 L598.7 699.3 L599.7 699.9 L600.5 700.5 L602.2 701.0 L603.4 702.3 L604.0 703.1 L605.0 704.5 L606.7 705.1 L607.7 707.1 L608.8 707.4 L609.6 708.0 L610.7 709.7 L611.4 709.9 L612.9 710.6 L614.1 711.4 L614.7 711.0 L615.9 713.1 L617.2 712.8 L618.6 713.2 L619.3 715.3 L620.6 715.0 L621.7 716.1 L623.1 716.7 L624.2 716.6 L626.1 717.5 L627.1 718.9 L628.0 719.7 L629.7 721.3 L630.1 721.1 L631.1 721.3 L632.2 722.4 L633.4 722.9 L635.0 724.4 L635.8 725.0 L636.8 724.7 L638.0 723.2 L639.1 722.6 L640.1 723.3 L641.1 723.6 L642.1 726.6 L643.5 726.6 L645.0 726.8 L646.1 727.8 L647.8 727.2 L648.7 727.5 L650.0 728.7 L651.4 730.7 L651.8 731.4 L653.5 730.4 L654.4 733.1 L655.5 733.1 L656.2 734.0 L658.0 734.3 L659.0 736.0 L659.6 737.1 L660.7 735.9 L662.2 737.6 L663.3 739.2 L664.2 739.0 L665.5 740.0 L666.4 740.3 L667.7 740.1 L668.9 741.2 L669.7 742.5 L670.6 743.7 L671.7 743.5 L673.1 745.6 L674.0 746.2 L674.8 743.9 L676.2 743.4 L677.4 744.3 L678.2 744.9 L679.1 746.2 L680.6 746.9 L682.2 747.5 L683.8 749.0 L685.0 749.2 L686.0 747.3 L687.1 749.1 L688.0 748.7 L689.5 751.2 L690.4 751.2 L691.5 751.3 L693.5 752.3 L694.8 752.8 L695.7 753.5 L697.3 754.9 L697.7 754.8 L699.1 755.9 L700.2 757.1 L701.1 756.8 L702.6 756.4 L703.3 755.0 L704.6 754.3 L705.5 756.0 L706.6 756.4 L708.1 755.8 L709.0 757.1 L710.4 757.6 L710.9 759.1 L712.2 759.5 L713.7 761.5 L714.4 762.1 L715.0 760.2 L716.2 759.3 L716.2 758.1 L717.2 756.8 L718.4 757.6 L718.8 755.6 L720.8 756.9 L722.0 757.1 L723.0 757.3 L724.2 755.6 L725.4 756.1 L725.6 758.5 L726.7 759.5 L727.6 760.0 L728.6 761.5 L728.4 759.4 L729.0 758.3 L729.0 758.5 L729.3 757.2 L730.1 754.5 L730.0 754.2 L730.3 751.2 L730.9 750.6 L730.8 749.5 L732.1 748.5 L733.3 749.6 L735.1 748.4 L736.4 749.3 L736.9 751.1 L738.1 750.6 L739.3 753.6 L740.6 753.8 L742.2 755.4 L743.0 755.6 L744.5 757.1 L744.7 756.7 L744.8 753.8 L744.6 752.5 L745.0 750.4 L745.0 751.1 L744.6 749.7 L745.1 746.8 L745.5 747.0 L745.0 744.3 L745.3 743.0 L745.4 741.8" fill="none" stroke="#06ee06" stroke-width="3.5" stroke-linejoin="miter" stroke-linecap="butt"/>
<rect x="299.7" y="653.2" width="25.9" height="89.3" fill="none" stroke="#000" stroke-width="1.1"/>
<rect x="299.7" y="564.6" width="451.6" height="433.0" fill="none" stroke="#000" stroke-width="1.5"/>
<path d="M293.6 742.5 H299.7 M293.6 704.2 H299.7 M293.6 665.9 H299.7 M293.6 627.6 H299.7 M293.6 589.3 H299.7 M293.6 868.0 H299.7 M293.6 889.6 H299.7 M293.6 914.3 H299.7 M293.6 936.3 H299.7 M293.6 959.8 H299.7 M293.6 982.7 H299.7 M341.8 997.6 v4.9 M384.5 997.6 v4.9 M427.1 997.6 v4.9 M469.8 997.6 v4.9 M512.5 997.6 v4.9 M555.2 997.6 v4.9 M597.8 997.6 v4.9 M640.5 997.6 v4.9 M683.2 997.6 v4.9 M725.9 997.6 v4.9" stroke="#000" stroke-width="1.3" fill="none"/>
<g font-size="12.3">
<text x="290.4" y="593.8" text-anchor="end">0.4</text>
<text x="290.4" y="747.0" text-anchor="end">0</text>
<text x="289.2" y="872.9" text-anchor="end">2</text>
<text x="289.2" y="919.2" text-anchor="end">0</text>
<text x="289.2" y="964.7" text-anchor="end">-2</text>
<text x="293.3" y="1010.7" text-anchor="middle">0</text>
<text x="384.8" y="1015.8" text-anchor="middle">1000</text>
<text x="470.1" y="1015.8" text-anchor="middle">2000</text>
<text x="555.5" y="1015.8" text-anchor="middle">3000</text>
<text x="640.8" y="1015.8" text-anchor="middle">4000</text>
<text x="726.1" y="1015.8" text-anchor="middle">5000</text>
</g>
<text x="301.6" y="869.3" font-size="10" font-weight="bold" style="fill:#ea5c66;stroke:none" letter-spacing="0.22">'D' (positively correlated)</text>
<text x="532.8" y="992.7" font-size="10" font-weight="bold" style="fill:#5050d8;stroke:none" letter-spacing="0.38">'WT' (negatively correlated)</text>
<text x="487" y="931" font-size="10.1" style="fill:#222;stroke:none">Zero cross at 2702</text>
<text x="0" y="0" font-size="15.5" text-anchor="middle" transform="translate(254.4 653.7) rotate(-90)">Enrichment score</text>
<text x="0" y="0" font-size="15.5" text-anchor="middle" transform="translate(254.4 930) rotate(-90)">Ranked list metric</text>
<text x="528.5" y="1042.5" font-size="15.3" text-anchor="middle">Rank in ordered dataset</text>
<text x="530.2" y="544" font-size="20.2" font-weight="bold" text-anchor="middle">Enrichment plot: O<tspan font-size="13" dy="4.5">2</tspan><tspan dy="-4.5"> UP gene set</tspan></text>
<text x="676.5" y="601.1" font-size="17.6" text-anchor="middle">NES = 2.28</text>
<text x="676" y="622.2" font-size="17.6" text-anchor="middle"><tspan font-style="italic">P</tspan> &lt; 0.001</text>
<line x1="199.5" y1="564.2" x2="236.5" y2="598.5" stroke="#333" stroke-width="0.9"/>
<line x1="259" y1="618" x2="298.5" y2="652.7" stroke="#333" stroke-width="0.9" stroke-dasharray="2.6 1.8"/>
<line x1="298.7" y1="744.4" x2="261.1" y2="902" stroke="#333" stroke-width="0.9" stroke-dasharray="2.6 1.8"/>
<line x1="237.9" y1="997.2" x2="200" y2="1150" stroke="#333" stroke-width="0.9"/>
<text x="279" y="1083.2" font-size="15.2">Relative expression</text>
<rect x="299.4" y="1099" width="92.4" height="11.5" fill="url(#cbar)" stroke="#000" stroke-width="1.1"/>
<text x="288.2" y="1130.5" font-size="15.2">low</text>
<text x="377.2" y="1130.5" font-size="15.2">high</text>
<line x1="560.6" y1="1078.7" x2="589.4" y2="1078.7" stroke="#0ae60a" stroke-width="2.5"/>
<text x="607.4" y="1082.2" font-size="15.3">Enrichment profile</text>
<line x1="560.6" y1="1101.7" x2="589.4" y2="1101.7" stroke="#000" stroke-width="2.5"/>
<text x="607.4" y="1105.6" font-size="15.3">Hits</text>
<line x1="560.6" y1="1126.7" x2="589.4" y2="1126.7" stroke="#cacaca" stroke-width="2.5"/>
<text x="607.4" y="1131.3" font-size="15.3">Ranking metric scores</text>
</g>
</svg>
</body></html>
